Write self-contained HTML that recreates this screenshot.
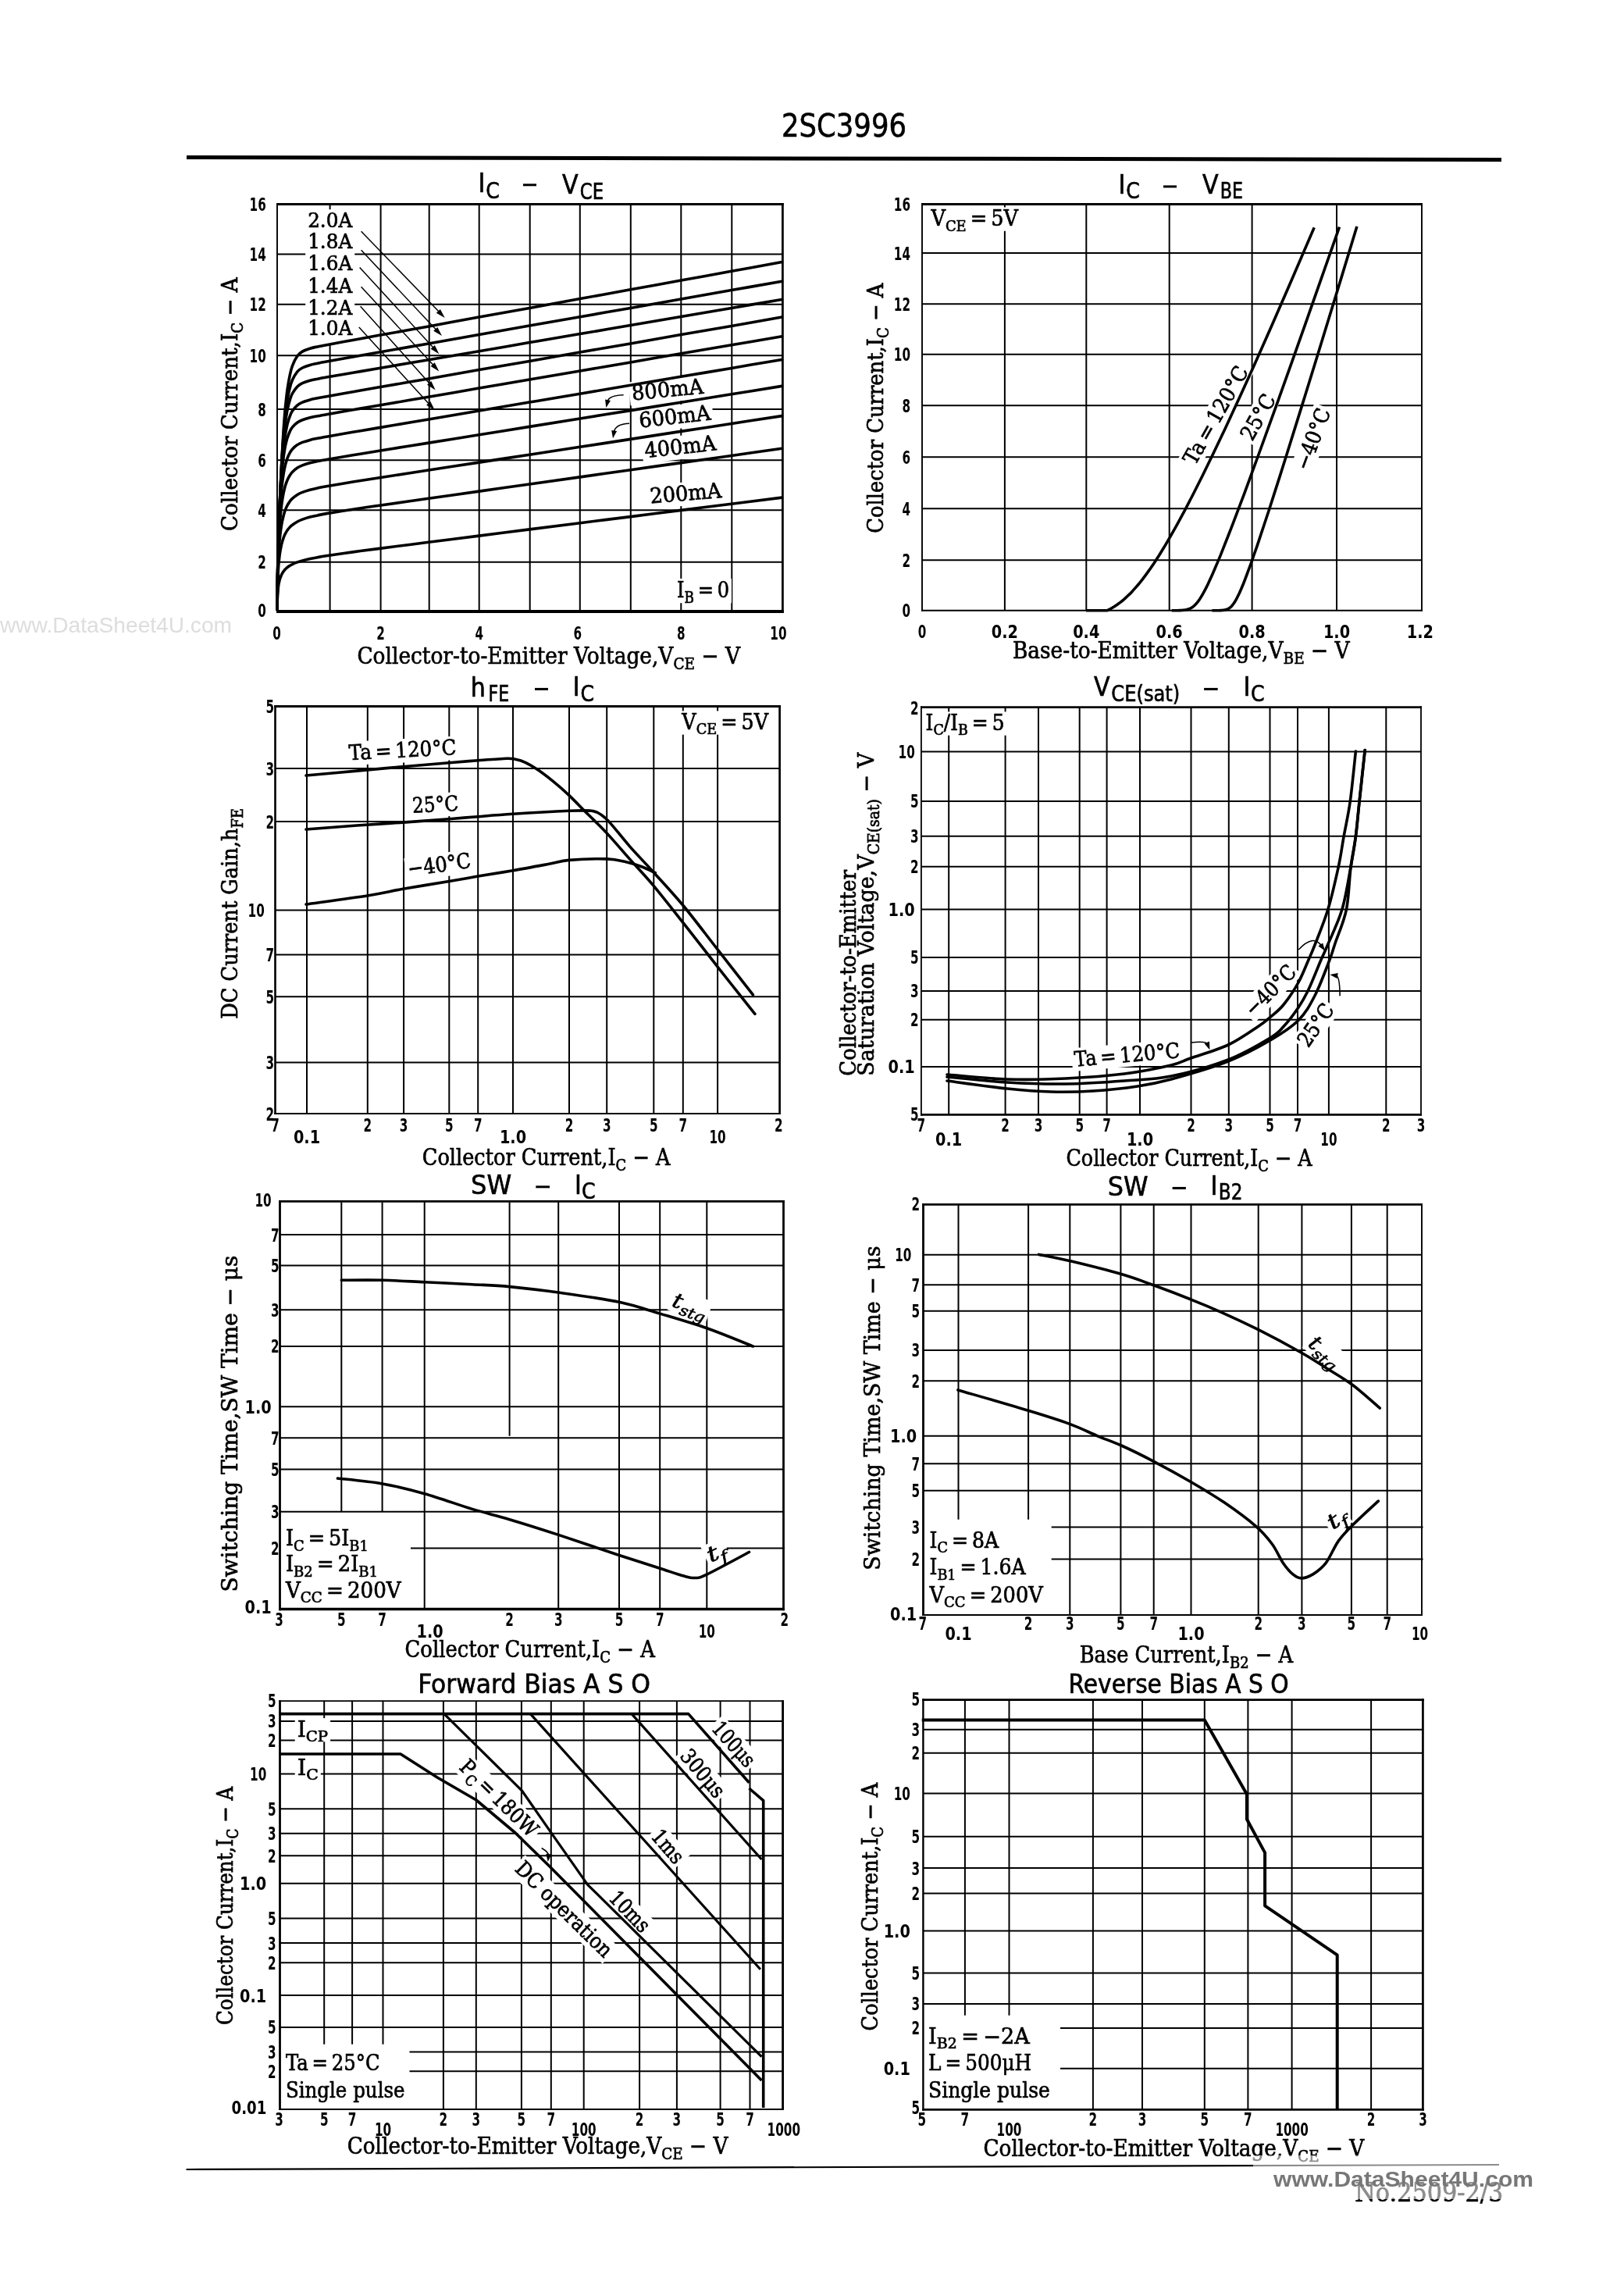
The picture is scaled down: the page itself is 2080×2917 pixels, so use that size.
<!DOCTYPE html>
<html><head><meta charset="utf-8"><title>2SC3996</title>
<style>
html,body{margin:0;padding:0;background:#fff;}
svg{display:block;will-change:transform;}
svg line, svg path, svg rect{stroke:#000;}
.sr{font-family:"DejaVu Serif","Liberation Serif",serif;fill:#000;stroke:#000;stroke-width:0.7px;}
.si{font-family:"DejaVu Serif","Liberation Serif",serif;font-style:italic;fill:#000;stroke:#000;stroke-width:0.6px;}
.sb{font-family:"DejaVu Sans Condensed","DejaVu Sans","Liberation Sans",sans-serif;font-weight:bold;fill:#000;}
.ti{font-family:"DejaVu Sans Condensed","DejaVu Sans","Liberation Sans",sans-serif;fill:#000;stroke:#000;stroke-width:0.6px;}
.wl{font-family:"Liberation Sans","DejaVu Sans",sans-serif;fill:#ddd;}
.wm{font-family:"Liberation Sans","DejaVu Sans",sans-serif;font-weight:bold;fill:#777;}
</style></head>
<body>
<svg width="2080" height="2917" viewBox="0 0 2080 2917">
<rect x="0" y="0" width="2080" height="2917" fill="#fff" style="stroke:none"/>
<line x1="422.6" y1="261.6" x2="422.6" y2="273.9" stroke-width="2"/>
<line x1="422.6" y1="439.9" x2="422.6" y2="781.3" stroke-width="2"/>
<line x1="487.6" y1="261.5" x2="487.6" y2="783" stroke-width="2"/>
<line x1="549.7" y1="261.5" x2="549.7" y2="783" stroke-width="2"/>
<line x1="613.7" y1="261.5" x2="613.7" y2="783" stroke-width="2"/>
<line x1="678.7" y1="261.5" x2="678.7" y2="783" stroke-width="2"/>
<line x1="742.8" y1="261.5" x2="742.8" y2="783" stroke-width="2"/>
<line x1="807.8" y1="261.5" x2="807.8" y2="783" stroke-width="2"/>
<line x1="872.3" y1="261.5" x2="872.3" y2="783" stroke-width="2"/>
<line x1="937.3" y1="261.5" x2="937.3" y2="783" stroke-width="2"/>
<line x1="355" y1="325.6" x2="1002.4" y2="325.6" stroke-width="2"/>
<line x1="355" y1="389.7" x2="1002.4" y2="389.7" stroke-width="2"/>
<line x1="355" y1="455.2" x2="1002.4" y2="455.2" stroke-width="2"/>
<line x1="355" y1="524.1" x2="1002.4" y2="524.1" stroke-width="2"/>
<line x1="355" y1="589.2" x2="1002.4" y2="589.2" stroke-width="2"/>
<line x1="355" y1="653.2" x2="1002.4" y2="653.2" stroke-width="2"/>
<line x1="355" y1="719.7" x2="1002.4" y2="719.7" stroke-width="2"/>
<line x1="1286.9" y1="261.5" x2="1286.9" y2="781.8" stroke-width="2"/>
<line x1="1391.3" y1="261.5" x2="1391.3" y2="781.8" stroke-width="2"/>
<line x1="1497.7" y1="261.5" x2="1497.7" y2="781.8" stroke-width="2"/>
<line x1="1603.6" y1="261.5" x2="1603.6" y2="781.8" stroke-width="2"/>
<line x1="1712" y1="261.5" x2="1712" y2="781.8" stroke-width="2"/>
<line x1="1181" y1="324.1" x2="1821" y2="324.1" stroke-width="2"/>
<line x1="1181" y1="389.2" x2="1821" y2="389.2" stroke-width="2"/>
<line x1="1181" y1="453.7" x2="1821" y2="453.7" stroke-width="2"/>
<line x1="1181" y1="519.2" x2="1821" y2="519.2" stroke-width="2"/>
<line x1="1181" y1="585.2" x2="1821" y2="585.2" stroke-width="2"/>
<line x1="1181" y1="651.2" x2="1821" y2="651.2" stroke-width="2"/>
<line x1="1181" y1="717.2" x2="1821" y2="717.2" stroke-width="2"/>
<line x1="393" y1="904.5" x2="393" y2="1426" stroke-width="2"/>
<line x1="470.8" y1="904.5" x2="470.8" y2="1426" stroke-width="2"/>
<line x1="517.1" y1="904.5" x2="517.1" y2="1426" stroke-width="2"/>
<line x1="575.3" y1="904.5" x2="575.3" y2="1426" stroke-width="2"/>
<line x1="612.2" y1="904.5" x2="612.2" y2="1426" stroke-width="2"/>
<line x1="657" y1="904.5" x2="657" y2="1426" stroke-width="2"/>
<line x1="729" y1="904.5" x2="729" y2="1426" stroke-width="2"/>
<line x1="777.2" y1="904.5" x2="777.2" y2="1426" stroke-width="2"/>
<line x1="837.3" y1="904.5" x2="837.3" y2="1426" stroke-width="2"/>
<line x1="874.8" y1="904.5" x2="874.8" y2="1426" stroke-width="2"/>
<line x1="919.1" y1="904.5" x2="919.1" y2="1426" stroke-width="2"/>
<line x1="352.5" y1="984.1" x2="998.6" y2="984.1" stroke-width="2"/>
<line x1="352.5" y1="1052.1" x2="998.6" y2="1052.1" stroke-width="2"/>
<line x1="352.5" y1="1165.4" x2="998.6" y2="1165.4" stroke-width="2"/>
<line x1="352.5" y1="1222.6" x2="998.6" y2="1222.6" stroke-width="2"/>
<line x1="352.5" y1="1276.3" x2="998.6" y2="1276.3" stroke-width="2"/>
<line x1="352.5" y1="1360.5" x2="998.6" y2="1360.5" stroke-width="2"/>
<line x1="1215.2" y1="905.6" x2="1215.2" y2="1427.4" stroke-width="2"/>
<line x1="1287.6" y1="905.6" x2="1287.6" y2="1427.4" stroke-width="2"/>
<line x1="1330" y1="905.6" x2="1330" y2="1427.4" stroke-width="2"/>
<line x1="1382.7" y1="905.6" x2="1382.7" y2="1427.4" stroke-width="2"/>
<line x1="1417.6" y1="905.6" x2="1417.6" y2="1427.4" stroke-width="2"/>
<line x1="1460" y1="905.6" x2="1460" y2="1427.4" stroke-width="2"/>
<line x1="1525.5" y1="905.6" x2="1525.5" y2="1427.4" stroke-width="2"/>
<line x1="1573.8" y1="905.6" x2="1573.8" y2="1427.4" stroke-width="2"/>
<line x1="1626.5" y1="905.6" x2="1626.5" y2="1427.4" stroke-width="2"/>
<line x1="1662" y1="905.6" x2="1662" y2="1427.4" stroke-width="2"/>
<line x1="1701.9" y1="905.6" x2="1701.9" y2="1427.4" stroke-width="2"/>
<line x1="1775.3" y1="905.6" x2="1775.3" y2="1427.4" stroke-width="2"/>
<line x1="1179.9" y1="962.5" x2="1820" y2="962.5" stroke-width="2"/>
<line x1="1179.9" y1="1026" x2="1820" y2="1026" stroke-width="2"/>
<line x1="1179.9" y1="1070.8" x2="1820" y2="1070.8" stroke-width="2"/>
<line x1="1179.9" y1="1109.8" x2="1820" y2="1109.8" stroke-width="2"/>
<line x1="1179.9" y1="1164.4" x2="1820" y2="1164.4" stroke-width="2"/>
<line x1="1179.9" y1="1226" x2="1820" y2="1226" stroke-width="2"/>
<line x1="1179.9" y1="1268.9" x2="1820" y2="1268.9" stroke-width="2"/>
<line x1="1179.9" y1="1305.8" x2="1820" y2="1305.8" stroke-width="2"/>
<line x1="1179.9" y1="1365.9" x2="1820" y2="1365.9" stroke-width="2"/>
<line x1="437.3" y1="1539.3" x2="437.3" y2="1935.8" stroke-width="2"/>
<line x1="489.6" y1="1539.3" x2="489.6" y2="1935.8" stroke-width="2"/>
<line x1="543.7" y1="1538.4" x2="543.7" y2="2060.5" stroke-width="2"/>
<line x1="652.6" y1="1539.3" x2="652.6" y2="1838.8" stroke-width="2"/>
<line x1="715.2" y1="1538.4" x2="715.2" y2="2060.5" stroke-width="2"/>
<line x1="793" y1="1538.4" x2="793" y2="2060.5" stroke-width="2"/>
<line x1="845.2" y1="1538.4" x2="845.2" y2="2060.5" stroke-width="2"/>
<line x1="905.3" y1="1538.4" x2="905.3" y2="2060.5" stroke-width="2"/>
<line x1="358.5" y1="1581.1" x2="1003.5" y2="1581.1" stroke-width="2"/>
<line x1="358.5" y1="1620.5" x2="1003.5" y2="1620.5" stroke-width="2"/>
<line x1="358.5" y1="1677.2" x2="1003.5" y2="1677.2" stroke-width="2"/>
<line x1="358.5" y1="1724" x2="1003.5" y2="1724" stroke-width="2"/>
<line x1="358.5" y1="1801.3" x2="1003.5" y2="1801.3" stroke-width="2"/>
<line x1="358.5" y1="1841.2" x2="1003.5" y2="1841.2" stroke-width="2"/>
<line x1="358.5" y1="1881.6" x2="1003.5" y2="1881.6" stroke-width="2"/>
<line x1="358.5" y1="1935.8" x2="1003.5" y2="1935.8" stroke-width="2"/>
<line x1="526" y1="1982.6" x2="1004.8" y2="1982.6" stroke-width="2"/>
<line x1="1227.5" y1="1541.7" x2="1227.5" y2="1945.7" stroke-width="2"/>
<line x1="1317.1" y1="1541.7" x2="1317.1" y2="1945.7" stroke-width="2"/>
<line x1="1370.3" y1="1542.4" x2="1370.3" y2="2067.9" stroke-width="2"/>
<line x1="1435.4" y1="1542.4" x2="1435.4" y2="2067.9" stroke-width="2"/>
<line x1="1477.7" y1="1542.4" x2="1477.7" y2="2067.9" stroke-width="2"/>
<line x1="1525.5" y1="1542.4" x2="1525.5" y2="2067.9" stroke-width="2"/>
<line x1="1611.7" y1="1542.4" x2="1611.7" y2="2067.9" stroke-width="2"/>
<line x1="1667.4" y1="1542.4" x2="1667.4" y2="2067.9" stroke-width="2"/>
<line x1="1730.9" y1="1542.4" x2="1730.9" y2="2067.9" stroke-width="2"/>
<line x1="1776.7" y1="1542.4" x2="1776.7" y2="2067.9" stroke-width="2"/>
<line x1="1182.5" y1="1606.7" x2="1821" y2="1606.7" stroke-width="2"/>
<line x1="1182.5" y1="1645.2" x2="1821" y2="1645.2" stroke-width="2"/>
<line x1="1182.5" y1="1678.7" x2="1821" y2="1678.7" stroke-width="2"/>
<line x1="1182.5" y1="1728.9" x2="1821" y2="1728.9" stroke-width="2"/>
<line x1="1182.5" y1="1768.3" x2="1821" y2="1768.3" stroke-width="2"/>
<line x1="1182.5" y1="1838.8" x2="1821" y2="1838.8" stroke-width="2"/>
<line x1="1182.5" y1="1874.2" x2="1821" y2="1874.2" stroke-width="2"/>
<line x1="1182.5" y1="1908.7" x2="1821" y2="1908.7" stroke-width="2"/>
<line x1="1346.7" y1="1955.5" x2="1822.6" y2="1955.5" stroke-width="2"/>
<line x1="1346.7" y1="1996.4" x2="1822.6" y2="1996.4" stroke-width="2"/>
<line x1="415.2" y1="2177.8" x2="415.2" y2="2617.7" stroke-width="2"/>
<line x1="451.1" y1="2177.8" x2="451.1" y2="2617.7" stroke-width="2"/>
<line x1="490.5" y1="2177.8" x2="490.5" y2="2617.7" stroke-width="2"/>
<line x1="567.9" y1="2178.1" x2="567.9" y2="2701" stroke-width="2"/>
<line x1="609.8" y1="2178.1" x2="609.8" y2="2701" stroke-width="2"/>
<line x1="667.9" y1="2178.1" x2="667.9" y2="2701" stroke-width="2"/>
<line x1="705.8" y1="2178.1" x2="705.8" y2="2701" stroke-width="2"/>
<line x1="747.7" y1="2178.1" x2="747.7" y2="2701" stroke-width="2"/>
<line x1="819.1" y1="2178.1" x2="819.1" y2="2701" stroke-width="2"/>
<line x1="866.9" y1="2178.1" x2="866.9" y2="2701" stroke-width="2"/>
<line x1="922.6" y1="2178.1" x2="922.6" y2="2701" stroke-width="2"/>
<line x1="960.5" y1="2178.1" x2="960.5" y2="2701" stroke-width="2"/>
<line x1="358.5" y1="2203.9" x2="1002.6" y2="2203.9" stroke-width="2"/>
<line x1="358.5" y1="2228.5" x2="1002.6" y2="2228.5" stroke-width="2"/>
<line x1="358.5" y1="2271.4" x2="1002.6" y2="2271.4" stroke-width="2"/>
<line x1="358.5" y1="2316.2" x2="1002.6" y2="2316.2" stroke-width="2"/>
<line x1="358.5" y1="2347.7" x2="1002.6" y2="2347.7" stroke-width="2"/>
<line x1="358.5" y1="2376.3" x2="1002.6" y2="2376.3" stroke-width="2"/>
<line x1="358.5" y1="2411.8" x2="1002.6" y2="2411.8" stroke-width="2"/>
<line x1="358.5" y1="2456.6" x2="1002.6" y2="2456.6" stroke-width="2"/>
<line x1="358.5" y1="2488.1" x2="1002.6" y2="2488.1" stroke-width="2"/>
<line x1="358.5" y1="2513.3" x2="1002.6" y2="2513.3" stroke-width="2"/>
<line x1="358.5" y1="2555.1" x2="1002.6" y2="2555.1" stroke-width="2"/>
<line x1="358.5" y1="2596" x2="1002.6" y2="2596" stroke-width="2"/>
<line x1="524.5" y1="2627.5" x2="1003.8" y2="2627.5" stroke-width="2"/>
<line x1="524.5" y1="2652.2" x2="1003.8" y2="2652.2" stroke-width="2"/>
<line x1="1235.9" y1="2177.8" x2="1235.9" y2="2580.7" stroke-width="2"/>
<line x1="1292.5" y1="2177.8" x2="1292.5" y2="2580.7" stroke-width="2"/>
<line x1="1399.9" y1="2176.6" x2="1399.9" y2="2701.3" stroke-width="2"/>
<line x1="1463" y1="2176.6" x2="1463" y2="2701.3" stroke-width="2"/>
<line x1="1542.8" y1="2176.6" x2="1542.8" y2="2701.3" stroke-width="2"/>
<line x1="1598.4" y1="2176.6" x2="1598.4" y2="2701.3" stroke-width="2"/>
<line x1="1654.6" y1="2176.6" x2="1654.6" y2="2701.3" stroke-width="2"/>
<line x1="1756.1" y1="2176.6" x2="1756.1" y2="2701.3" stroke-width="2"/>
<line x1="1182.4" y1="2214.7" x2="1822.4" y2="2214.7" stroke-width="2"/>
<line x1="1182.4" y1="2244.8" x2="1822.4" y2="2244.8" stroke-width="2"/>
<line x1="1182.4" y1="2296.5" x2="1822.4" y2="2296.5" stroke-width="2"/>
<line x1="1182.4" y1="2351.7" x2="1822.4" y2="2351.7" stroke-width="2"/>
<line x1="1182.4" y1="2392.1" x2="1822.4" y2="2392.1" stroke-width="2"/>
<line x1="1182.4" y1="2424.6" x2="1822.4" y2="2424.6" stroke-width="2"/>
<line x1="1182.4" y1="2472.4" x2="1822.4" y2="2472.4" stroke-width="2"/>
<line x1="1182.4" y1="2526.6" x2="1822.4" y2="2526.6" stroke-width="2"/>
<line x1="1182.4" y1="2566" x2="1822.4" y2="2566" stroke-width="2"/>
<line x1="1358" y1="2597" x2="1822.6" y2="2597" stroke-width="2"/>
<line x1="1358" y1="2648.7" x2="1822.6" y2="2648.7" stroke-width="2"/>
<rect x="454.4" y="824.2" width="496.6" height="32.8" fill="#fff" style="stroke:none"/>
<rect x="391.2" y="268.2" width="63" height="28.8" fill="#fff" style="stroke:none"/>
<rect x="391.2" y="296" width="63" height="28.8" fill="#fff" style="stroke:none"/>
<rect x="391.2" y="323.7" width="63" height="28.8" fill="#fff" style="stroke:none"/>
<rect x="391.2" y="352.3" width="63" height="28.8" fill="#fff" style="stroke:none"/>
<rect x="391.2" y="380.9" width="63" height="28.8" fill="#fff" style="stroke:none"/>
<rect x="391.2" y="406.8" width="63" height="28.8" fill="#fff" style="stroke:none"/>
<rect x="807.1" y="489" width="98" height="30.3" fill="#fff" style="stroke:none" transform="rotate(-5.5 810.1 512.5)"/>
<rect x="816.6" y="524.2" width="98" height="30.3" fill="#fff" style="stroke:none" transform="rotate(-6.5 819.6 547.7)"/>
<rect x="823.4" y="562.8" width="98" height="30.3" fill="#fff" style="stroke:none" transform="rotate(-6.2 826.4 586.3)"/>
<rect x="830.2" y="621.1" width="98" height="30.3" fill="#fff" style="stroke:none" transform="rotate(-4.7 833.2 644.6)"/>
<rect x="864" y="740.9" width="73" height="31.3" fill="#fff" style="stroke:none"/>
<rect x="1293.9" y="817.6" width="437.7" height="32.8" fill="#fff" style="stroke:none"/>
<rect x="1189.4" y="265.5" width="117.7" height="30.3" fill="#fff" style="stroke:none"/>
<rect x="1483.6" y="517.5" width="146" height="29.6" fill="#fff" style="stroke:none" transform="rotate(-60.4 1556.6 531.3)"/>
<rect x="1576.3" y="520" width="69" height="29.6" fill="#fff" style="stroke:none" transform="rotate(-60.6 1610.8 533.8)"/>
<rect x="1637" y="548.3" width="88" height="29.6" fill="#fff" style="stroke:none" transform="rotate(-69.5 1681 562.1)"/>
<rect x="537.8" y="1466.1" width="323.7" height="32.8" fill="#fff" style="stroke:none"/>
<rect x="444.2" y="949.8" width="143.9" height="30.3" fill="#fff" style="stroke:none" transform="rotate(-3 447.2 973.3)"/>
<rect x="525.5" y="1017.3" width="65.1" height="30.3" fill="#fff" style="stroke:none" transform="rotate(-3 528.5 1040.8)"/>
<rect x="520.5" y="1098.5" width="87.3" height="30.3" fill="#fff" style="stroke:none" transform="rotate(-8 523.5 1122.1)"/>
<rect x="870.3" y="910.4" width="116.8" height="30.3" fill="#fff" style="stroke:none"/>
<rect x="1362.4" y="1467.6" width="321.3" height="32.8" fill="#fff" style="stroke:none"/>
<rect x="1182.6" y="911.4" width="107" height="30.3" fill="#fff" style="stroke:none"/>
<rect x="1372.5" y="1336.3" width="141.5" height="29.6" fill="#fff" style="stroke:none" transform="rotate(-5 1443.3 1350.1)"/>
<rect x="1583.5" y="1254" width="86" height="29.6" fill="#fff" style="stroke:none" transform="rotate(-45 1626.5 1267.9)"/>
<rect x="1651.6" y="1298.4" width="66" height="29.6" fill="#fff" style="stroke:none" transform="rotate(-55 1684.6 1312.2)"/>
<rect x="515.6" y="2096.1" width="326.2" height="32.8" fill="#fff" style="stroke:none"/>
<rect x="858.3" y="1657.2" width="52" height="29.6" fill="#fff" style="stroke:none" transform="rotate(20 884.3 1671)"/>
<rect x="901.8" y="1973.3" width="30" height="29.6" fill="#fff" style="stroke:none" transform="rotate(-25 916.8 1987.1)"/>
<rect x="362.9" y="1955.6" width="111.9" height="30.3" fill="#fff" style="stroke:none"/>
<rect x="362.9" y="1988.6" width="124.2" height="30.3" fill="#fff" style="stroke:none"/>
<rect x="362.9" y="2022.1" width="153.8" height="30.3" fill="#fff" style="stroke:none"/>
<rect x="1379.7" y="2103.5" width="279.4" height="32.8" fill="#fff" style="stroke:none"/>
<rect x="1671.8" y="1716.1" width="52" height="29.6" fill="#fff" style="stroke:none" transform="rotate(40 1697.8 1729.9)"/>
<rect x="1696.2" y="1930.7" width="30" height="29.6" fill="#fff" style="stroke:none" transform="rotate(-35 1711.2 1944.5)"/>
<rect x="1187.5" y="1958.1" width="94.7" height="30.3" fill="#fff" style="stroke:none"/>
<rect x="1187.5" y="1992.6" width="129.2" height="30.3" fill="#fff" style="stroke:none"/>
<rect x="1187.5" y="2028.1" width="151.3" height="30.3" fill="#fff" style="stroke:none"/>
<rect x="441.7" y="2732.7" width="493.7" height="32.8" fill="#fff" style="stroke:none"/>
<rect x="377.7" y="2200.1" width="45.4" height="30.3" fill="#fff" style="stroke:none"/>
<rect x="377.7" y="2249.3" width="33.1" height="30.3" fill="#fff" style="stroke:none"/>
<rect x="572.5" y="2288.3" width="134" height="29.6" fill="#fff" style="stroke:none" transform="rotate(44.4 639.5 2302.1)"/>
<rect x="638.8" y="2430.5" width="168" height="29.6" fill="#fff" style="stroke:none" transform="rotate(44.5 722.8 2444.3)"/>
<rect x="773.1" y="2433.5" width="68" height="29.6" fill="#fff" style="stroke:none" transform="rotate(46 807.1 2447.3)"/>
<rect x="828.9" y="2350.2" width="54" height="29.6" fill="#fff" style="stroke:none" transform="rotate(49 855.9 2364)"/>
<rect x="861.5" y="2256.7" width="78" height="29.6" fill="#fff" style="stroke:none" transform="rotate(49.8 900.5 2270.5)"/>
<rect x="903.2" y="2219.2" width="74" height="29.6" fill="#fff" style="stroke:none" transform="rotate(48 940.2 2233)"/>
<rect x="362.9" y="2627.7" width="126.7" height="30.3" fill="#fff" style="stroke:none"/>
<rect x="362.9" y="2662.1" width="158.7" height="30.3" fill="#fff" style="stroke:none"/>
<rect x="1256.5" y="2735.1" width="493.7" height="32.8" fill="#fff" style="stroke:none"/>
<rect x="1186.1" y="2593.2" width="135.6" height="30.3" fill="#fff" style="stroke:none"/>
<rect x="1186.1" y="2627.7" width="138" height="30.3" fill="#fff" style="stroke:none"/>
<rect x="1186.1" y="2662.1" width="161.7" height="30.3" fill="#fff" style="stroke:none"/>
<g class="halo">
<text x="612.5" y="245.6" font-size="33.5" class="ti">I</text>
<text x="622.3" y="253.8" font-size="28" class="ti">C</text>
<line x1="670" y1="236.8" x2="687" y2="236.8" stroke-width="3"/>
<text x="719.9" y="247.7" font-size="33.5" class="ti">V</text>
<text x="742.8" y="254.9" font-size="28" class="ti" textLength="30.3" lengthAdjust="spacingAndGlyphs">CE</text>
<text x="340.8" y="270" font-size="23" class="sb" text-anchor="end" textLength="21.2" lengthAdjust="spacingAndGlyphs">16</text>
<text x="340.8" y="334" font-size="23" class="sb" text-anchor="end" textLength="21.2" lengthAdjust="spacingAndGlyphs">14</text>
<text x="340.8" y="398" font-size="23" class="sb" text-anchor="end" textLength="21.2" lengthAdjust="spacingAndGlyphs">12</text>
<text x="340.8" y="463.6" font-size="23" class="sb" text-anchor="end" textLength="21.2" lengthAdjust="spacingAndGlyphs">10</text>
<text x="340.8" y="532.5" font-size="23" class="sb" text-anchor="end" textLength="10.6" lengthAdjust="spacingAndGlyphs">8</text>
<text x="340.8" y="597.5" font-size="23" class="sb" text-anchor="end" textLength="10.6" lengthAdjust="spacingAndGlyphs">6</text>
<text x="340.8" y="661.6" font-size="23" class="sb" text-anchor="end" textLength="10.6" lengthAdjust="spacingAndGlyphs">4</text>
<text x="340.8" y="728.1" font-size="23" class="sb" text-anchor="end" textLength="10.6" lengthAdjust="spacingAndGlyphs">2</text>
<text x="340.8" y="789.7" font-size="23" class="sb" text-anchor="end" textLength="10.6" lengthAdjust="spacingAndGlyphs">0</text>
<text x="354.6" y="819.2" font-size="23" class="sb" text-anchor="middle" textLength="10.6" lengthAdjust="spacingAndGlyphs">0</text>
<text x="487.6" y="819.2" font-size="23" class="sb" text-anchor="middle" textLength="10.6" lengthAdjust="spacingAndGlyphs">2</text>
<text x="613.7" y="819.2" font-size="23" class="sb" text-anchor="middle" textLength="10.6" lengthAdjust="spacingAndGlyphs">4</text>
<text x="739.8" y="819.2" font-size="23" class="sb" text-anchor="middle" textLength="10.6" lengthAdjust="spacingAndGlyphs">6</text>
<text x="872.3" y="819.2" font-size="23" class="sb" text-anchor="middle" textLength="10.6" lengthAdjust="spacingAndGlyphs">8</text>
<text x="996.9" y="819.2" font-size="23" class="sb" text-anchor="middle" textLength="21.2" lengthAdjust="spacingAndGlyphs">10</text>
<text x="304" y="517.6" font-size="28.5" class="sr" text-anchor="middle" textLength="324.6" lengthAdjust="spacingAndGlyphs" transform="rotate(-90 304 517.6)">Collector Current,I<tspan dy="6.8" font-size="19.9">C</tspan><tspan dy="-6.8"> − A</tspan></text>
<text x="457.4" y="849.6" font-size="29.5" class="sr" textLength="490.6" lengthAdjust="spacingAndGlyphs">Collector-to-Emitter Voltage,V<tspan dy="7.1" font-size="20.6">CE</tspan><tspan dy="-7.1"> − V</tspan></text>
<text x="394.2" y="290.6" font-size="25.5" class="sr" textLength="57" lengthAdjust="spacingAndGlyphs">2.0A</text>
<text x="394.2" y="318.4" font-size="25.5" class="sr" textLength="57" lengthAdjust="spacingAndGlyphs">1.8A</text>
<text x="394.2" y="346.1" font-size="25.5" class="sr" textLength="57" lengthAdjust="spacingAndGlyphs">1.6A</text>
<text x="394.2" y="374.7" font-size="25.5" class="sr" textLength="57" lengthAdjust="spacingAndGlyphs">1.4A</text>
<text x="394.2" y="403.3" font-size="25.5" class="sr" textLength="57" lengthAdjust="spacingAndGlyphs">1.2A</text>
<text x="394.2" y="429.2" font-size="25.5" class="sr" textLength="57" lengthAdjust="spacingAndGlyphs">1.0A</text>
<text x="810.1" y="512.5" font-size="27" class="sr" textLength="92" lengthAdjust="spacingAndGlyphs" transform="rotate(-5.5 810.1 512.5)">800mA</text>
<text x="819.6" y="547.7" font-size="27" class="sr" textLength="92" lengthAdjust="spacingAndGlyphs" transform="rotate(-6.5 819.6 547.7)">600mA</text>
<text x="826.4" y="586.3" font-size="27" class="sr" textLength="92" lengthAdjust="spacingAndGlyphs" transform="rotate(-6.2 826.4 586.3)">400mA</text>
<text x="833.2" y="644.6" font-size="27" class="sr" textLength="92" lengthAdjust="spacingAndGlyphs" transform="rotate(-4.7 833.2 644.6)">200mA</text>
<text x="867" y="765.2" font-size="28" class="sr" textLength="67" lengthAdjust="spacingAndGlyphs">I<tspan dy="6.7" font-size="19.6">B</tspan><tspan dy="-6.7"> = 0</tspan></text>
<text x="1432.6" y="247.7" font-size="33.5" class="ti">I</text>
<text x="1442.3" y="254.4" font-size="28" class="ti">C</text>
<line x1="1490" y1="238.9" x2="1507" y2="238.9" stroke-width="3"/>
<text x="1539.9" y="248.3" font-size="33.5" class="ti">V</text>
<text x="1562.8" y="254.4" font-size="28" class="ti" textLength="29.3" lengthAdjust="spacingAndGlyphs">BE</text>
<text x="1166" y="270" font-size="23" class="sb" text-anchor="end" textLength="21.2" lengthAdjust="spacingAndGlyphs">16</text>
<text x="1166" y="332.5" font-size="23" class="sb" text-anchor="end" textLength="21.2" lengthAdjust="spacingAndGlyphs">14</text>
<text x="1166" y="397.5" font-size="23" class="sb" text-anchor="end" textLength="21.2" lengthAdjust="spacingAndGlyphs">12</text>
<text x="1166" y="462.1" font-size="23" class="sb" text-anchor="end" textLength="21.2" lengthAdjust="spacingAndGlyphs">10</text>
<text x="1166" y="527.6" font-size="23" class="sb" text-anchor="end" textLength="10.6" lengthAdjust="spacingAndGlyphs">8</text>
<text x="1166" y="593.6" font-size="23" class="sb" text-anchor="end" textLength="10.6" lengthAdjust="spacingAndGlyphs">6</text>
<text x="1166" y="659.6" font-size="23" class="sb" text-anchor="end" textLength="10.6" lengthAdjust="spacingAndGlyphs">4</text>
<text x="1166" y="725.6" font-size="23" class="sb" text-anchor="end" textLength="10.6" lengthAdjust="spacingAndGlyphs">2</text>
<text x="1166" y="789.7" font-size="23" class="sb" text-anchor="end" textLength="10.6" lengthAdjust="spacingAndGlyphs">0</text>
<text x="1181" y="816.8" font-size="23" class="sb" text-anchor="middle" textLength="10.6" lengthAdjust="spacingAndGlyphs">0</text>
<text x="1286.9" y="816.8" font-size="23" class="sb" text-anchor="middle" textLength="34.2" lengthAdjust="spacingAndGlyphs">0.2</text>
<text x="1391.3" y="816.8" font-size="23" class="sb" text-anchor="middle" textLength="34.2" lengthAdjust="spacingAndGlyphs">0.4</text>
<text x="1497.7" y="816.8" font-size="23" class="sb" text-anchor="middle" textLength="34.2" lengthAdjust="spacingAndGlyphs">0.6</text>
<text x="1603.6" y="816.8" font-size="23" class="sb" text-anchor="middle" textLength="34.2" lengthAdjust="spacingAndGlyphs">0.8</text>
<text x="1712" y="816.8" font-size="23" class="sb" text-anchor="middle" textLength="34.2" lengthAdjust="spacingAndGlyphs">1.0</text>
<text x="1818.9" y="816.8" font-size="23" class="sb" text-anchor="middle" textLength="34.2" lengthAdjust="spacingAndGlyphs">1.2</text>
<text x="1131.4" y="522.7" font-size="28.5" class="sr" text-anchor="middle" textLength="320.2" lengthAdjust="spacingAndGlyphs" transform="rotate(-90 1131.4 522.7)">Collector Current,I<tspan dy="6.8" font-size="19.9">C</tspan><tspan dy="-6.8"> − A</tspan></text>
<text x="1296.9" y="843" font-size="29.5" class="sr" textLength="431.7" lengthAdjust="spacingAndGlyphs">Base-to-Emitter Voltage,V<tspan dy="7.1" font-size="20.6">BE</tspan><tspan dy="-7.1"> − V</tspan></text>
<text x="1192.4" y="289" font-size="27" class="sr" textLength="111.7" lengthAdjust="spacingAndGlyphs">V<tspan dy="6.5" font-size="18.9">CE</tspan><tspan dy="-6.5"> = 5V</tspan></text>
<text x="1556.6" y="541.1" font-size="27" class="sr" text-anchor="middle" textLength="140" lengthAdjust="spacingAndGlyphs" transform="rotate(-60.4 1556.6 531.3)">Ta = 120°C</text>
<text x="1610.8" y="543.6" font-size="27" class="sr" text-anchor="middle" textLength="63" lengthAdjust="spacingAndGlyphs" transform="rotate(-60.6 1610.8 533.8)">25°C</text>
<text x="1681" y="571.9" font-size="27" class="sr" text-anchor="middle" textLength="82" lengthAdjust="spacingAndGlyphs" transform="rotate(-69.5 1681 562.1)">−40°C</text>
<text x="602.7" y="891.8" font-size="33.5" class="ti">h</text>
<text x="625.6" y="897.9" font-size="28" class="ti" textLength="26.6" lengthAdjust="spacingAndGlyphs">FE</text>
<line x1="685" y1="882.4" x2="702" y2="882.4" stroke-width="3"/>
<text x="733.8" y="890.5" font-size="33.5" class="ti">I</text>
<text x="743.6" y="897.9" font-size="28" class="ti">C</text>
<text x="351.1" y="912.7" font-size="23" class="sb" text-anchor="end" textLength="10.6" lengthAdjust="spacingAndGlyphs">5</text>
<text x="351.1" y="992.5" font-size="23" class="sb" text-anchor="end" textLength="10.6" lengthAdjust="spacingAndGlyphs">3</text>
<text x="351.1" y="1060.5" font-size="23" class="sb" text-anchor="end" textLength="10.6" lengthAdjust="spacingAndGlyphs">2</text>
<text x="351.1" y="1230.9" font-size="23" class="sb" text-anchor="end" textLength="10.6" lengthAdjust="spacingAndGlyphs">7</text>
<text x="351.1" y="1284.6" font-size="23" class="sb" text-anchor="end" textLength="10.6" lengthAdjust="spacingAndGlyphs">5</text>
<text x="351.1" y="1368.9" font-size="23" class="sb" text-anchor="end" textLength="10.6" lengthAdjust="spacingAndGlyphs">3</text>
<text x="351.1" y="1434.9" font-size="23" class="sb" text-anchor="end" textLength="10.6" lengthAdjust="spacingAndGlyphs">2</text>
<text x="338.8" y="1173.8" font-size="23" class="sb" text-anchor="end" textLength="21.2" lengthAdjust="spacingAndGlyphs">10</text>
<text x="352.6" y="1448.7" font-size="23" class="sb" text-anchor="middle" textLength="10.6" lengthAdjust="spacingAndGlyphs">7</text>
<text x="470.8" y="1448.7" font-size="23" class="sb" text-anchor="middle" textLength="10.6" lengthAdjust="spacingAndGlyphs">2</text>
<text x="517.1" y="1448.7" font-size="23" class="sb" text-anchor="middle" textLength="10.6" lengthAdjust="spacingAndGlyphs">3</text>
<text x="575.3" y="1448.7" font-size="23" class="sb" text-anchor="middle" textLength="10.6" lengthAdjust="spacingAndGlyphs">5</text>
<text x="612.2" y="1448.7" font-size="23" class="sb" text-anchor="middle" textLength="10.6" lengthAdjust="spacingAndGlyphs">7</text>
<text x="729" y="1448.7" font-size="23" class="sb" text-anchor="middle" textLength="10.6" lengthAdjust="spacingAndGlyphs">2</text>
<text x="777.2" y="1448.7" font-size="23" class="sb" text-anchor="middle" textLength="10.6" lengthAdjust="spacingAndGlyphs">3</text>
<text x="837.3" y="1448.7" font-size="23" class="sb" text-anchor="middle" textLength="10.6" lengthAdjust="spacingAndGlyphs">5</text>
<text x="874.8" y="1448.7" font-size="23" class="sb" text-anchor="middle" textLength="10.6" lengthAdjust="spacingAndGlyphs">7</text>
<text x="997.4" y="1448.7" font-size="23" class="sb" text-anchor="middle" textLength="10.6" lengthAdjust="spacingAndGlyphs">2</text>
<text x="393" y="1464.4" font-size="23" class="sb" text-anchor="middle" textLength="34.2" lengthAdjust="spacingAndGlyphs">0.1</text>
<text x="657" y="1464.4" font-size="23" class="sb" text-anchor="middle" textLength="34.2" lengthAdjust="spacingAndGlyphs">1.0</text>
<text x="919.1" y="1464.4" font-size="23" class="sb" text-anchor="middle" textLength="21.2" lengthAdjust="spacingAndGlyphs">10</text>
<text x="304" y="1169.9" font-size="28.5" class="sr" text-anchor="middle" textLength="269.8" lengthAdjust="spacingAndGlyphs" transform="rotate(-90 304 1169.9)">DC Current Gain,h<tspan dy="6.8" font-size="19.9">FE</tspan><tspan dy="-6.8"></tspan></text>
<text x="540.8" y="1491.5" font-size="29.5" class="sr" textLength="317.7" lengthAdjust="spacingAndGlyphs">Collector Current,I<tspan dy="7.1" font-size="20.6">C</tspan><tspan dy="-7.1"> − A</tspan></text>
<text x="447.2" y="973.3" font-size="27" class="sr" textLength="137.9" lengthAdjust="spacingAndGlyphs" transform="rotate(-3 447.2 973.3)">Ta = 120°C</text>
<text x="528.5" y="1040.8" font-size="27" class="sr" textLength="59.1" lengthAdjust="spacingAndGlyphs" transform="rotate(-3 528.5 1040.8)">25°C</text>
<text x="523.5" y="1122.1" font-size="27" class="sr" textLength="81.3" lengthAdjust="spacingAndGlyphs" transform="rotate(-8 523.5 1122.1)">−40°C</text>
<text x="873.3" y="933.9" font-size="27" class="sr" textLength="110.8" lengthAdjust="spacingAndGlyphs">V<tspan dy="6.5" font-size="18.9">CE</tspan><tspan dy="-6.5"> = 5V</tspan></text>
<text x="1400.9" y="891.2" font-size="33.5" class="ti">V</text>
<text x="1423.3" y="898.4" font-size="28" class="ti" textLength="87.9" lengthAdjust="spacingAndGlyphs">CE(sat)</text>
<line x1="1542.1" y1="882.4" x2="1559.7" y2="882.4" stroke-width="3"/>
<text x="1592.4" y="891.2" font-size="33.5" class="ti">I</text>
<text x="1602" y="898.4" font-size="28" class="ti">C</text>
<text x="1176.7" y="915.2" font-size="23" class="sb" text-anchor="end" textLength="10.6" lengthAdjust="spacingAndGlyphs">2</text>
<text x="1176.7" y="1034.4" font-size="23" class="sb" text-anchor="end" textLength="10.6" lengthAdjust="spacingAndGlyphs">5</text>
<text x="1176.7" y="1079.2" font-size="23" class="sb" text-anchor="end" textLength="10.6" lengthAdjust="spacingAndGlyphs">3</text>
<text x="1176.7" y="1118.1" font-size="23" class="sb" text-anchor="end" textLength="10.6" lengthAdjust="spacingAndGlyphs">2</text>
<text x="1176.7" y="1234.4" font-size="23" class="sb" text-anchor="end" textLength="10.6" lengthAdjust="spacingAndGlyphs">5</text>
<text x="1176.7" y="1277.3" font-size="23" class="sb" text-anchor="end" textLength="10.6" lengthAdjust="spacingAndGlyphs">3</text>
<text x="1176.7" y="1314.2" font-size="23" class="sb" text-anchor="end" textLength="10.6" lengthAdjust="spacingAndGlyphs">2</text>
<text x="1176.7" y="1434.9" font-size="23" class="sb" text-anchor="end" textLength="10.6" lengthAdjust="spacingAndGlyphs">5</text>
<text x="1171.8" y="970.8" font-size="23" class="sb" text-anchor="end" textLength="21.2" lengthAdjust="spacingAndGlyphs">10</text>
<text x="1171.8" y="1172.8" font-size="23" class="sb" text-anchor="end" textLength="34.2" lengthAdjust="spacingAndGlyphs">1.0</text>
<text x="1171.8" y="1374.3" font-size="23" class="sb" text-anchor="end" textLength="34.2" lengthAdjust="spacingAndGlyphs">0.1</text>
<text x="1179.7" y="1448.7" font-size="23" class="sb" text-anchor="middle" textLength="10.6" lengthAdjust="spacingAndGlyphs">7</text>
<text x="1287.6" y="1448.7" font-size="23" class="sb" text-anchor="middle" textLength="10.6" lengthAdjust="spacingAndGlyphs">2</text>
<text x="1330" y="1448.7" font-size="23" class="sb" text-anchor="middle" textLength="10.6" lengthAdjust="spacingAndGlyphs">3</text>
<text x="1382.7" y="1448.7" font-size="23" class="sb" text-anchor="middle" textLength="10.6" lengthAdjust="spacingAndGlyphs">5</text>
<text x="1417.6" y="1448.7" font-size="23" class="sb" text-anchor="middle" textLength="10.6" lengthAdjust="spacingAndGlyphs">7</text>
<text x="1525.5" y="1448.7" font-size="23" class="sb" text-anchor="middle" textLength="10.6" lengthAdjust="spacingAndGlyphs">2</text>
<text x="1573.8" y="1448.7" font-size="23" class="sb" text-anchor="middle" textLength="10.6" lengthAdjust="spacingAndGlyphs">3</text>
<text x="1626.5" y="1448.7" font-size="23" class="sb" text-anchor="middle" textLength="10.6" lengthAdjust="spacingAndGlyphs">5</text>
<text x="1662" y="1448.7" font-size="23" class="sb" text-anchor="middle" textLength="10.6" lengthAdjust="spacingAndGlyphs">7</text>
<text x="1775.3" y="1448.7" font-size="23" class="sb" text-anchor="middle" textLength="10.6" lengthAdjust="spacingAndGlyphs">2</text>
<text x="1820.1" y="1448.7" font-size="23" class="sb" text-anchor="middle" textLength="10.6" lengthAdjust="spacingAndGlyphs">3</text>
<text x="1215.2" y="1466.9" font-size="23" class="sb" text-anchor="middle" textLength="34.2" lengthAdjust="spacingAndGlyphs">0.1</text>
<text x="1460" y="1466.9" font-size="23" class="sb" text-anchor="middle" textLength="34.2" lengthAdjust="spacingAndGlyphs">1.0</text>
<text x="1701.9" y="1466.9" font-size="23" class="sb" text-anchor="middle" textLength="21.2" lengthAdjust="spacingAndGlyphs">10</text>
<text x="1095.6" y="1245.8" font-size="28.5" class="sr" text-anchor="middle" textLength="263.7" lengthAdjust="spacingAndGlyphs" transform="rotate(-90 1095.6 1245.8)">Collector-to-Emitter</text>
<text x="1119.3" y="1170.8" font-size="28.5" class="sr" text-anchor="middle" textLength="413.9" lengthAdjust="spacingAndGlyphs" transform="rotate(-90 1119.3 1170.8)">Saturation Voltage,V<tspan dy="6.8" font-size="19.9">CE(sat)</tspan><tspan dy="-6.8"> − V</tspan></text>
<text x="1365.4" y="1493" font-size="29.5" class="sr" textLength="315.3" lengthAdjust="spacingAndGlyphs">Collector Current,I<tspan dy="7.1" font-size="20.6">C</tspan><tspan dy="-7.1"> − A</tspan></text>
<text x="1185.6" y="934.9" font-size="27" class="sr" textLength="101" lengthAdjust="spacingAndGlyphs">I<tspan dy="6.5" font-size="18.9">C</tspan><tspan dy="-6.5">/I</tspan><tspan dy="6.5" font-size="18.9">B</tspan><tspan dy="-6.5"> = 5</tspan></text>
<text x="1443.3" y="1360" font-size="27" class="sr" text-anchor="middle" textLength="135.5" lengthAdjust="spacingAndGlyphs" transform="rotate(-5 1443.3 1350.1)">Ta = 120°C</text>
<text x="1626.5" y="1277.7" font-size="27" class="sr" text-anchor="middle" textLength="80" lengthAdjust="spacingAndGlyphs" transform="rotate(-45 1626.5 1267.9)">−40°C</text>
<text x="1684.6" y="1322.1" font-size="27" class="sr" text-anchor="middle" textLength="60" lengthAdjust="spacingAndGlyphs" transform="rotate(-55 1684.6 1312.2)">25°C</text>
<text x="603.1" y="1528.6" font-size="33.5" class="ti" textLength="52.1" lengthAdjust="spacingAndGlyphs">SW</text>
<line x1="686.3" y1="1519.8" x2="704" y2="1519.8" stroke-width="3"/>
<text x="735.9" y="1528.6" font-size="33.5" class="ti">I</text>
<text x="744.9" y="1535.4" font-size="28" class="ti">C</text>
<text x="357.5" y="1589.5" font-size="23" class="sb" text-anchor="end" textLength="10.6" lengthAdjust="spacingAndGlyphs">7</text>
<text x="357.5" y="1628.9" font-size="23" class="sb" text-anchor="end" textLength="10.6" lengthAdjust="spacingAndGlyphs">5</text>
<text x="357.5" y="1685.6" font-size="23" class="sb" text-anchor="end" textLength="10.6" lengthAdjust="spacingAndGlyphs">3</text>
<text x="357.5" y="1732.4" font-size="23" class="sb" text-anchor="end" textLength="10.6" lengthAdjust="spacingAndGlyphs">2</text>
<text x="357.5" y="1849.6" font-size="23" class="sb" text-anchor="end" textLength="10.6" lengthAdjust="spacingAndGlyphs">7</text>
<text x="357.5" y="1890" font-size="23" class="sb" text-anchor="end" textLength="10.6" lengthAdjust="spacingAndGlyphs">5</text>
<text x="357.5" y="1944.2" font-size="23" class="sb" text-anchor="end" textLength="10.6" lengthAdjust="spacingAndGlyphs">3</text>
<text x="357.5" y="1991" font-size="23" class="sb" text-anchor="end" textLength="10.6" lengthAdjust="spacingAndGlyphs">2</text>
<text x="347.7" y="1545.2" font-size="23" class="sb" text-anchor="end" textLength="21.2" lengthAdjust="spacingAndGlyphs">10</text>
<text x="347.7" y="1809.7" font-size="23" class="sb" text-anchor="end" textLength="34.2" lengthAdjust="spacingAndGlyphs">1.0</text>
<text x="347.7" y="2066.4" font-size="23" class="sb" text-anchor="end" textLength="34.2" lengthAdjust="spacingAndGlyphs">0.1</text>
<text x="357.5" y="2082.1" font-size="23" class="sb" text-anchor="middle" textLength="10.6" lengthAdjust="spacingAndGlyphs">3</text>
<text x="437.3" y="2082.1" font-size="23" class="sb" text-anchor="middle" textLength="10.6" lengthAdjust="spacingAndGlyphs">5</text>
<text x="489.6" y="2082.1" font-size="23" class="sb" text-anchor="middle" textLength="10.6" lengthAdjust="spacingAndGlyphs">7</text>
<text x="652.6" y="2082.1" font-size="23" class="sb" text-anchor="middle" textLength="10.6" lengthAdjust="spacingAndGlyphs">2</text>
<text x="715.2" y="2082.1" font-size="23" class="sb" text-anchor="middle" textLength="10.6" lengthAdjust="spacingAndGlyphs">3</text>
<text x="793" y="2082.1" font-size="23" class="sb" text-anchor="middle" textLength="10.6" lengthAdjust="spacingAndGlyphs">5</text>
<text x="845.2" y="2082.1" font-size="23" class="sb" text-anchor="middle" textLength="10.6" lengthAdjust="spacingAndGlyphs">7</text>
<text x="1004.8" y="2082.1" font-size="23" class="sb" text-anchor="middle" textLength="10.6" lengthAdjust="spacingAndGlyphs">2</text>
<text x="550.6" y="2096.9" font-size="23" class="sb" text-anchor="middle" textLength="34.2" lengthAdjust="spacingAndGlyphs">1.0</text>
<text x="905.3" y="2096.9" font-size="23" class="sb" text-anchor="middle" textLength="21.2" lengthAdjust="spacingAndGlyphs">10</text>
<text x="304.1" y="1823.1" font-size="28.5" class="sr" text-anchor="middle" textLength="430.8" lengthAdjust="spacingAndGlyphs" transform="rotate(-90 304.1 1823.1)">Switching Time,SW Time − μs</text>
<text x="518.6" y="2121.5" font-size="29.5" class="sr" textLength="320.2" lengthAdjust="spacingAndGlyphs">Collector Current,I<tspan dy="7.1" font-size="20.6">C</tspan><tspan dy="-7.1"> − A</tspan></text>
<text x="884.3" y="1680.8" font-size="27" class="si" text-anchor="middle" textLength="46" lengthAdjust="spacingAndGlyphs" transform="rotate(20 884.3 1671)">t<tspan dy="6.5" font-size="18.9">stg</tspan><tspan dy="-6.5"></tspan></text>
<text x="916.8" y="1996.9" font-size="27" class="si" text-anchor="middle" textLength="24" lengthAdjust="spacingAndGlyphs" transform="rotate(-25 916.8 1987.1)">t<tspan dy="6.5" font-size="18.9">f</tspan><tspan dy="-6.5"></tspan></text>
<text x="365.9" y="1979.2" font-size="27" class="sr" textLength="105.9" lengthAdjust="spacingAndGlyphs">I<tspan dy="6.5" font-size="18.9">C</tspan><tspan dy="-6.5"> = 5I</tspan><tspan dy="6.5" font-size="18.9">B1</tspan><tspan dy="-6.5"></tspan></text>
<text x="365.9" y="2012.2" font-size="27" class="sr" textLength="118.2" lengthAdjust="spacingAndGlyphs">I<tspan dy="6.5" font-size="18.9">B2</tspan><tspan dy="-6.5"> = 2I</tspan><tspan dy="6.5" font-size="18.9">B1</tspan><tspan dy="-6.5"></tspan></text>
<text x="365.9" y="2045.7" font-size="27" class="sr" textLength="147.8" lengthAdjust="spacingAndGlyphs">V<tspan dy="6.5" font-size="18.9">CC</tspan><tspan dy="-6.5"> = 200V</tspan></text>
<text x="1418.7" y="1530.9" font-size="33.5" class="ti" textLength="51.8" lengthAdjust="spacingAndGlyphs">SW</text>
<line x1="1501.6" y1="1521.4" x2="1518.9" y2="1521.4" stroke-width="3"/>
<text x="1550.5" y="1529.5" font-size="33.5" class="ti">I</text>
<text x="1560.8" y="1536.3" font-size="28" class="ti" textLength="30.6" lengthAdjust="spacingAndGlyphs">B2</text>
<text x="1178.2" y="1550.1" font-size="23" class="sb" text-anchor="end" textLength="10.6" lengthAdjust="spacingAndGlyphs">2</text>
<text x="1178.2" y="1653.6" font-size="23" class="sb" text-anchor="end" textLength="10.6" lengthAdjust="spacingAndGlyphs">7</text>
<text x="1178.2" y="1687.1" font-size="23" class="sb" text-anchor="end" textLength="10.6" lengthAdjust="spacingAndGlyphs">5</text>
<text x="1178.2" y="1737.3" font-size="23" class="sb" text-anchor="end" textLength="10.6" lengthAdjust="spacingAndGlyphs">3</text>
<text x="1178.2" y="1776.7" font-size="23" class="sb" text-anchor="end" textLength="10.6" lengthAdjust="spacingAndGlyphs">2</text>
<text x="1178.2" y="1882.6" font-size="23" class="sb" text-anchor="end" textLength="10.6" lengthAdjust="spacingAndGlyphs">7</text>
<text x="1178.2" y="1917.1" font-size="23" class="sb" text-anchor="end" textLength="10.6" lengthAdjust="spacingAndGlyphs">5</text>
<text x="1178.2" y="1963.9" font-size="23" class="sb" text-anchor="end" textLength="10.6" lengthAdjust="spacingAndGlyphs">3</text>
<text x="1178.2" y="2004.8" font-size="23" class="sb" text-anchor="end" textLength="10.6" lengthAdjust="spacingAndGlyphs">2</text>
<text x="1167.4" y="1615.1" font-size="23" class="sb" text-anchor="end" textLength="21.2" lengthAdjust="spacingAndGlyphs">10</text>
<text x="1174.3" y="1847.2" font-size="23" class="sb" text-anchor="end" textLength="34.2" lengthAdjust="spacingAndGlyphs">1.0</text>
<text x="1174.3" y="2074.7" font-size="23" class="sb" text-anchor="end" textLength="34.2" lengthAdjust="spacingAndGlyphs">0.1</text>
<text x="1181.7" y="2087.1" font-size="23" class="sb" text-anchor="middle" textLength="10.6" lengthAdjust="spacingAndGlyphs">7</text>
<text x="1317.1" y="2087.1" font-size="23" class="sb" text-anchor="middle" textLength="10.6" lengthAdjust="spacingAndGlyphs">2</text>
<text x="1370.3" y="2087.1" font-size="23" class="sb" text-anchor="middle" textLength="10.6" lengthAdjust="spacingAndGlyphs">3</text>
<text x="1435.4" y="2087.1" font-size="23" class="sb" text-anchor="middle" textLength="10.6" lengthAdjust="spacingAndGlyphs">5</text>
<text x="1477.7" y="2087.1" font-size="23" class="sb" text-anchor="middle" textLength="10.6" lengthAdjust="spacingAndGlyphs">7</text>
<text x="1611.7" y="2087.1" font-size="23" class="sb" text-anchor="middle" textLength="10.6" lengthAdjust="spacingAndGlyphs">2</text>
<text x="1667.4" y="2087.1" font-size="23" class="sb" text-anchor="middle" textLength="10.6" lengthAdjust="spacingAndGlyphs">3</text>
<text x="1730.9" y="2087.1" font-size="23" class="sb" text-anchor="middle" textLength="10.6" lengthAdjust="spacingAndGlyphs">5</text>
<text x="1776.7" y="2087.1" font-size="23" class="sb" text-anchor="middle" textLength="10.6" lengthAdjust="spacingAndGlyphs">7</text>
<text x="1227.5" y="2100.4" font-size="23" class="sb" text-anchor="middle" textLength="34.2" lengthAdjust="spacingAndGlyphs">0.1</text>
<text x="1525.5" y="2100.4" font-size="23" class="sb" text-anchor="middle" textLength="34.2" lengthAdjust="spacingAndGlyphs">1.0</text>
<text x="1818.6" y="2100.4" font-size="23" class="sb" text-anchor="middle" textLength="21.2" lengthAdjust="spacingAndGlyphs">10</text>
<text x="1127.4" y="1803" font-size="28.5" class="sr" text-anchor="middle" textLength="415.4" lengthAdjust="spacingAndGlyphs" transform="rotate(-90 1127.4 1803)">Switching Time,SW Time − μs</text>
<text x="1382.7" y="2128.9" font-size="29.5" class="sr" textLength="273.4" lengthAdjust="spacingAndGlyphs">Base Current,I<tspan dy="7.1" font-size="20.6">B2</tspan><tspan dy="-7.1"> − A</tspan></text>
<text x="1697.8" y="1739.7" font-size="27" class="si" text-anchor="middle" textLength="46" lengthAdjust="spacingAndGlyphs" transform="rotate(40 1697.8 1729.9)">t<tspan dy="6.5" font-size="18.9">stg</tspan><tspan dy="-6.5"></tspan></text>
<text x="1711.2" y="1954.3" font-size="27" class="si" text-anchor="middle" textLength="24" lengthAdjust="spacingAndGlyphs" transform="rotate(-35 1711.2 1944.5)">t<tspan dy="6.5" font-size="18.9">f</tspan><tspan dy="-6.5"></tspan></text>
<text x="1190.5" y="1981.6" font-size="27" class="sr" textLength="88.7" lengthAdjust="spacingAndGlyphs">I<tspan dy="6.5" font-size="18.9">C</tspan><tspan dy="-6.5"> = 8A</tspan></text>
<text x="1190.5" y="2016.1" font-size="27" class="sr" textLength="123.2" lengthAdjust="spacingAndGlyphs">I<tspan dy="6.5" font-size="18.9">B1</tspan><tspan dy="-6.5"> = 1.6A</tspan></text>
<text x="1190.5" y="2051.6" font-size="27" class="sr" textLength="145.3" lengthAdjust="spacingAndGlyphs">V<tspan dy="6.5" font-size="18.9">CC</tspan><tspan dy="-6.5"> = 200V</tspan></text>
<text x="535.3" y="2168.1" font-size="33.5" class="ti" textLength="297.7" lengthAdjust="spacingAndGlyphs">Forward Bias A S O</text>
<text x="353.6" y="2186.2" font-size="23" class="sb" text-anchor="end" textLength="10.6" lengthAdjust="spacingAndGlyphs">5</text>
<text x="353.6" y="2212.3" font-size="23" class="sb" text-anchor="end" textLength="10.6" lengthAdjust="spacingAndGlyphs">3</text>
<text x="353.6" y="2236.9" font-size="23" class="sb" text-anchor="end" textLength="10.6" lengthAdjust="spacingAndGlyphs">2</text>
<text x="353.6" y="2324.6" font-size="23" class="sb" text-anchor="end" textLength="10.6" lengthAdjust="spacingAndGlyphs">5</text>
<text x="353.6" y="2356.1" font-size="23" class="sb" text-anchor="end" textLength="10.6" lengthAdjust="spacingAndGlyphs">3</text>
<text x="353.6" y="2384.7" font-size="23" class="sb" text-anchor="end" textLength="10.6" lengthAdjust="spacingAndGlyphs">2</text>
<text x="353.6" y="2465" font-size="23" class="sb" text-anchor="end" textLength="10.6" lengthAdjust="spacingAndGlyphs">5</text>
<text x="353.6" y="2496.5" font-size="23" class="sb" text-anchor="end" textLength="10.6" lengthAdjust="spacingAndGlyphs">3</text>
<text x="353.6" y="2521.6" font-size="23" class="sb" text-anchor="end" textLength="10.6" lengthAdjust="spacingAndGlyphs">2</text>
<text x="353.6" y="2604.4" font-size="23" class="sb" text-anchor="end" textLength="10.6" lengthAdjust="spacingAndGlyphs">5</text>
<text x="353.6" y="2635.9" font-size="23" class="sb" text-anchor="end" textLength="10.6" lengthAdjust="spacingAndGlyphs">3</text>
<text x="353.6" y="2660.6" font-size="23" class="sb" text-anchor="end" textLength="10.6" lengthAdjust="spacingAndGlyphs">2</text>
<text x="341.3" y="2279.8" font-size="23" class="sb" text-anchor="end" textLength="21.2" lengthAdjust="spacingAndGlyphs">10</text>
<text x="341.3" y="2420.2" font-size="23" class="sb" text-anchor="end" textLength="34.2" lengthAdjust="spacingAndGlyphs">1.0</text>
<text x="341.3" y="2563.5" font-size="23" class="sb" text-anchor="end" textLength="34.2" lengthAdjust="spacingAndGlyphs">0.1</text>
<text x="341.3" y="2707.3" font-size="23" class="sb" text-anchor="end" textLength="44.8" lengthAdjust="spacingAndGlyphs">0.01</text>
<text x="357.5" y="2722.1" font-size="23" class="sb" text-anchor="middle" textLength="10.6" lengthAdjust="spacingAndGlyphs">3</text>
<text x="415.2" y="2722.1" font-size="23" class="sb" text-anchor="middle" textLength="10.6" lengthAdjust="spacingAndGlyphs">5</text>
<text x="451.1" y="2722.1" font-size="23" class="sb" text-anchor="middle" textLength="10.6" lengthAdjust="spacingAndGlyphs">7</text>
<text x="567.9" y="2722.1" font-size="23" class="sb" text-anchor="middle" textLength="10.6" lengthAdjust="spacingAndGlyphs">2</text>
<text x="609.8" y="2722.1" font-size="23" class="sb" text-anchor="middle" textLength="10.6" lengthAdjust="spacingAndGlyphs">3</text>
<text x="667.9" y="2722.1" font-size="23" class="sb" text-anchor="middle" textLength="10.6" lengthAdjust="spacingAndGlyphs">5</text>
<text x="705.8" y="2722.1" font-size="23" class="sb" text-anchor="middle" textLength="10.6" lengthAdjust="spacingAndGlyphs">7</text>
<text x="819.1" y="2722.1" font-size="23" class="sb" text-anchor="middle" textLength="10.6" lengthAdjust="spacingAndGlyphs">2</text>
<text x="866.9" y="2722.1" font-size="23" class="sb" text-anchor="middle" textLength="10.6" lengthAdjust="spacingAndGlyphs">3</text>
<text x="922.6" y="2722.1" font-size="23" class="sb" text-anchor="middle" textLength="10.6" lengthAdjust="spacingAndGlyphs">5</text>
<text x="960.5" y="2722.1" font-size="23" class="sb" text-anchor="middle" textLength="10.6" lengthAdjust="spacingAndGlyphs">7</text>
<text x="490.5" y="2735.4" font-size="23" class="sb" text-anchor="middle" textLength="21.2" lengthAdjust="spacingAndGlyphs">10</text>
<text x="747.7" y="2735.4" font-size="23" class="sb" text-anchor="middle" textLength="31.8" lengthAdjust="spacingAndGlyphs">100</text>
<text x="1003.8" y="2735.4" font-size="23" class="sb" text-anchor="middle" textLength="42.4" lengthAdjust="spacingAndGlyphs">1000</text>
<text x="298.4" y="2440.3" font-size="28.5" class="sr" text-anchor="middle" textLength="305.4" lengthAdjust="spacingAndGlyphs" transform="rotate(-90 298.4 2440.3)">Collector Current,I<tspan dy="6.8" font-size="19.9">C</tspan><tspan dy="-6.8"> − A</tspan></text>
<text x="444.7" y="2758.1" font-size="29.5" class="sr" textLength="487.7" lengthAdjust="spacingAndGlyphs">Collector-to-Emitter Voltage,V<tspan dy="7.1" font-size="20.6">CE</tspan><tspan dy="-7.1"> − V</tspan></text>
<text x="380.7" y="2223.6" font-size="27" class="sr" textLength="39.4" lengthAdjust="spacingAndGlyphs">I<tspan dy="6.5" font-size="18.9">CP</tspan><tspan dy="-6.5"></tspan></text>
<text x="380.7" y="2272.9" font-size="27" class="sr" textLength="27.1" lengthAdjust="spacingAndGlyphs">I<tspan dy="6.5" font-size="18.9">C</tspan><tspan dy="-6.5"></tspan></text>
<text x="639.5" y="2311.9" font-size="27" class="sr" text-anchor="middle" textLength="128" lengthAdjust="spacingAndGlyphs" transform="rotate(44.4 639.5 2302.1)">P<tspan dy="6.5" font-size="18.9">C</tspan><tspan dy="-6.5"> = 180W</tspan></text>
<text x="722.8" y="2454.1" font-size="27" class="sr" text-anchor="middle" textLength="162" lengthAdjust="spacingAndGlyphs" transform="rotate(44.5 722.8 2444.3)">DC operation</text>
<text x="807.1" y="2457.1" font-size="27" class="sr" text-anchor="middle" textLength="62" lengthAdjust="spacingAndGlyphs" transform="rotate(46 807.1 2447.3)">10ms</text>
<text x="855.9" y="2373.8" font-size="27" class="sr" text-anchor="middle" textLength="48" lengthAdjust="spacingAndGlyphs" transform="rotate(49 855.9 2364)">1ms</text>
<text x="900.5" y="2280.3" font-size="27" class="sr" text-anchor="middle" textLength="72" lengthAdjust="spacingAndGlyphs" transform="rotate(49.8 900.5 2270.5)">300μs</text>
<text x="940.2" y="2242.8" font-size="27" class="sr" text-anchor="middle" textLength="68" lengthAdjust="spacingAndGlyphs" transform="rotate(48 940.2 2233)">100μs</text>
<text x="365.9" y="2651.2" font-size="27" class="sr" textLength="120.7" lengthAdjust="spacingAndGlyphs">Ta = 25°C</text>
<text x="365.9" y="2685.7" font-size="27" class="sr" textLength="152.7" lengthAdjust="spacingAndGlyphs">Single pulse</text>
<text x="1368.6" y="2168.1" font-size="33.5" class="ti" textLength="282" lengthAdjust="spacingAndGlyphs">Reverse Bias A S O</text>
<text x="1178.2" y="2183.7" font-size="23" class="sb" text-anchor="end" textLength="10.6" lengthAdjust="spacingAndGlyphs">5</text>
<text x="1178.2" y="2223.1" font-size="23" class="sb" text-anchor="end" textLength="10.6" lengthAdjust="spacingAndGlyphs">3</text>
<text x="1178.2" y="2253.2" font-size="23" class="sb" text-anchor="end" textLength="10.6" lengthAdjust="spacingAndGlyphs">2</text>
<text x="1178.2" y="2360.1" font-size="23" class="sb" text-anchor="end" textLength="10.6" lengthAdjust="spacingAndGlyphs">5</text>
<text x="1178.2" y="2400.5" font-size="23" class="sb" text-anchor="end" textLength="10.6" lengthAdjust="spacingAndGlyphs">3</text>
<text x="1178.2" y="2433" font-size="23" class="sb" text-anchor="end" textLength="10.6" lengthAdjust="spacingAndGlyphs">2</text>
<text x="1178.2" y="2534.9" font-size="23" class="sb" text-anchor="end" textLength="10.6" lengthAdjust="spacingAndGlyphs">5</text>
<text x="1178.2" y="2574.3" font-size="23" class="sb" text-anchor="end" textLength="10.6" lengthAdjust="spacingAndGlyphs">3</text>
<text x="1178.2" y="2605.4" font-size="23" class="sb" text-anchor="end" textLength="10.6" lengthAdjust="spacingAndGlyphs">2</text>
<text x="1178.2" y="2707.3" font-size="23" class="sb" text-anchor="end" textLength="10.6" lengthAdjust="spacingAndGlyphs">5</text>
<text x="1165.9" y="2304.9" font-size="23" class="sb" text-anchor="end" textLength="21.2" lengthAdjust="spacingAndGlyphs">10</text>
<text x="1165.9" y="2480.7" font-size="23" class="sb" text-anchor="end" textLength="34.2" lengthAdjust="spacingAndGlyphs">1.0</text>
<text x="1165.9" y="2657.1" font-size="23" class="sb" text-anchor="end" textLength="34.2" lengthAdjust="spacingAndGlyphs">0.1</text>
<text x="1180.7" y="2722.1" font-size="23" class="sb" text-anchor="middle" textLength="10.6" lengthAdjust="spacingAndGlyphs">5</text>
<text x="1235.9" y="2722.1" font-size="23" class="sb" text-anchor="middle" textLength="10.6" lengthAdjust="spacingAndGlyphs">7</text>
<text x="1399.9" y="2722.1" font-size="23" class="sb" text-anchor="middle" textLength="10.6" lengthAdjust="spacingAndGlyphs">2</text>
<text x="1463" y="2722.1" font-size="23" class="sb" text-anchor="middle" textLength="10.6" lengthAdjust="spacingAndGlyphs">3</text>
<text x="1542.8" y="2722.1" font-size="23" class="sb" text-anchor="middle" textLength="10.6" lengthAdjust="spacingAndGlyphs">5</text>
<text x="1598.4" y="2722.1" font-size="23" class="sb" text-anchor="middle" textLength="10.6" lengthAdjust="spacingAndGlyphs">7</text>
<text x="1756.1" y="2722.1" font-size="23" class="sb" text-anchor="middle" textLength="10.6" lengthAdjust="spacingAndGlyphs">2</text>
<text x="1822.6" y="2722.1" font-size="23" class="sb" text-anchor="middle" textLength="10.6" lengthAdjust="spacingAndGlyphs">3</text>
<text x="1292.5" y="2735.4" font-size="23" class="sb" text-anchor="middle" textLength="31.8" lengthAdjust="spacingAndGlyphs">100</text>
<text x="1654.6" y="2735.4" font-size="23" class="sb" text-anchor="middle" textLength="42.4" lengthAdjust="spacingAndGlyphs">1000</text>
<text x="1124" y="2441.6" font-size="28.5" class="sr" text-anchor="middle" textLength="317.7" lengthAdjust="spacingAndGlyphs" transform="rotate(-90 1124 2441.6)">Collector Current,I<tspan dy="6.8" font-size="19.9">C</tspan><tspan dy="-6.8"> − A</tspan></text>
<text x="1259.5" y="2760.5" font-size="29.5" class="sr" textLength="487.7" lengthAdjust="spacingAndGlyphs">Collector-to-Emitter Voltage,V<tspan dy="7.1" font-size="20.6">CE</tspan><tspan dy="-7.1"> − V</tspan></text>
<text x="1189.1" y="2616.7" font-size="27" class="sr" textLength="129.6" lengthAdjust="spacingAndGlyphs">I<tspan dy="6.5" font-size="18.9">B2</tspan><tspan dy="-6.5"> = −2A</tspan></text>
<text x="1189.1" y="2651.2" font-size="27" class="sr" textLength="132" lengthAdjust="spacingAndGlyphs">L = 500μH</text>
<text x="1189.1" y="2685.7" font-size="27" class="sr" textLength="155.7" lengthAdjust="spacingAndGlyphs">Single pulse</text>
</g>
<text x="1001" y="175" font-size="40.5" class="ti" textLength="160" lengthAdjust="spacingAndGlyphs">2SC3996</text>
<path d="M239 201.5 L1923 204.5" fill="none" stroke-width="5" stroke-linejoin="round"/>
<path d="M355 780.4 C355.1 777.9 355.2 770.1 355.3 765.2 C355.4 760.2 355.5 757.6 355.6 750.7 C355.8 743.7 356.1 732.2 356.3 723.6 C356.5 715 356.7 708.6 356.9 699 C357.2 689.4 357.6 676.4 357.9 666.1 C358.2 655.9 358.5 647.8 358.9 637.6 C359.3 627.5 359.7 615.2 360.2 605.4 C360.6 595.6 360.9 588.4 361.5 578.7 C362 568.9 362.8 556.2 363.4 546.9 C364.1 537.6 364.6 530.8 365.3 523 C366.1 515.1 367 506.9 367.9 499.8 C368.9 492.8 370.1 485.9 371.2 480.7 C372.2 475.5 372.8 472.8 374.4 468.6 C376 464.4 378.7 458.9 380.9 455.8 C383 452.7 384.6 451.7 387.3 450.1 C390 448.5 393.8 447.2 397 446.2 C400.3 445.1 402.9 444.7 406.7 443.9 C410.5 443.1 412.1 442.8 419.6 441.4 C427.2 440 441.2 437.5 452 435.5 C462.8 433.5 468.1 432.6 484.3 429.6 C500.5 426.7 527.4 421.8 549 417.9 C570.5 413.9 592.1 410 613.6 406.1 C635.1 402.2 656.7 398.3 678.2 394.4 C699.8 390.4 721.4 386.5 742.9 382.6 C764.5 378.7 786 374.8 807.6 370.8 C829.1 366.9 850.7 363 872.2 359.1 C893.8 355.2 915.3 351.3 936.9 347.3 C958.4 343.4 990.7 337.5 1001.5 335.6" fill="none" stroke-width="3.6" stroke-linejoin="round" stroke-linecap="round"/>
<path d="M355 780.4 C355.1 777.3 355.2 767.7 355.3 762 C355.4 756.2 355.5 753.4 355.6 745.9 C355.8 738.5 356.1 726.4 356.3 717.5 C356.5 708.7 356.7 702.2 356.9 692.7 C357.2 683.3 357.6 670.6 357.9 660.8 C358.2 651.1 358.5 643.4 358.9 634 C359.3 624.6 359.7 613.4 360.2 604.5 C360.6 595.6 360.9 589.2 361.5 580.6 C362 572 362.8 560.9 363.4 552.8 C364.1 544.8 364.6 539 365.3 532.3 C366.1 525.6 367 518.7 367.9 512.8 C368.9 506.9 370.1 501.1 371.2 496.8 C372.2 492.5 372.8 490.2 374.4 486.7 C376 483.2 378.7 478.6 380.9 475.9 C383 473.3 384.6 472.4 387.3 471 C390 469.6 393.8 468.3 397 467.4 C400.3 466.4 402.9 466 406.7 465.2 C410.5 464.4 412.1 464.1 419.6 462.8 C427.2 461.4 441.2 458.9 452 457 C462.8 455.1 468.1 454.2 484.3 451.3 C500.5 448.5 527.4 443.7 549 439.9 C570.5 436.1 592.1 432.3 613.6 428.5 C635.1 424.7 656.7 420.9 678.2 417.1 C699.8 413.3 721.4 409.5 742.9 405.8 C764.5 402 786 398.2 807.6 394.4 C829.1 390.6 850.7 386.8 872.2 383 C893.8 379.2 915.3 375.4 936.9 371.6 C958.4 367.8 990.7 362.1 1001.5 360.2" fill="none" stroke-width="3.6" stroke-linejoin="round" stroke-linecap="round"/>
<path d="M355 780.4 C355.1 776.7 355.2 764.8 355.3 758.2 C355.4 751.6 355.5 748.5 355.6 740.7 C355.8 732.8 356.1 720.2 356.3 711.2 C356.5 702.1 356.7 695.7 356.9 686.5 C357.2 677.3 357.6 665.2 357.9 656 C358.2 646.7 358.5 639.7 358.9 631.1 C359.3 622.5 359.7 612.3 360.2 604.4 C360.6 596.4 360.9 590.8 361.5 583.3 C362 575.8 362.8 566.2 363.4 559.3 C364.1 552.4 364.6 547.6 365.3 541.9 C366.1 536.3 367 530.5 367.9 525.6 C368.9 520.7 370.1 516 371.2 512.4 C372.2 508.8 372.8 506.9 374.4 504 C376 501.1 378.7 497.2 380.9 494.9 C383 492.7 384.6 491.9 387.3 490.6 C390 489.4 393.8 488.2 397 487.3 C400.3 486.4 402.9 485.9 406.7 485.2 C410.5 484.4 412.1 484.1 419.6 482.8 C427.2 481.5 441.2 479.1 452 477.3 C462.8 475.4 468.1 474.5 484.3 471.7 C500.5 469 527.4 464.4 549 460.7 C570.5 457 592.1 453.4 613.6 449.7 C635.1 446 656.7 442.3 678.2 438.6 C699.8 435 721.4 431.3 742.9 427.6 C764.5 423.9 786 420.2 807.6 416.6 C829.1 412.9 850.7 409.2 872.2 405.5 C893.8 401.9 915.3 398.2 936.9 394.5 C958.4 390.8 990.7 385.3 1001.5 383.5" fill="none" stroke-width="3.6" stroke-linejoin="round" stroke-linecap="round"/>
<path d="M355 780.4 C355.1 776.1 355.2 761.8 355.3 754.4 C355.4 746.9 355.5 743.8 355.6 735.8 C355.8 727.8 356.1 715.2 356.3 706.3 C356.5 697.5 356.7 691.4 356.9 682.8 C357.2 674.1 357.6 663 357.9 654.6 C358.2 646.2 358.5 639.9 358.9 632.4 C359.3 624.8 359.7 616 360.2 609.2 C360.6 602.3 360.9 597.6 361.5 591.3 C362 584.9 362.8 577 363.4 571.3 C364.1 565.6 364.6 561.6 365.3 557 C366.1 552.4 367 547.8 367.9 543.8 C368.9 539.8 370.1 536 371.2 533.1 C372.2 530.2 372.8 528.7 374.4 526.3 C376 523.9 378.7 520.7 380.9 518.8 C383 516.9 384.6 516.2 387.3 515.1 C390 513.9 393.8 512.8 397 511.9 C400.3 511.1 402.9 510.6 406.7 509.8 C410.5 509.1 412.1 508.8 419.6 507.4 C427.2 506.1 441.2 503.6 452 501.7 C462.8 499.9 468.1 498.9 484.3 496.1 C500.5 493.3 527.4 488.6 549 484.9 C570.5 481.1 592.1 477.4 613.6 473.6 C635.1 469.9 656.7 466.1 678.2 462.4 C699.8 458.6 721.4 454.9 742.9 451.1 C764.5 447.4 786 443.6 807.6 439.9 C829.1 436.1 850.7 432.4 872.2 428.6 C893.8 424.9 915.3 421.1 936.9 417.4 C958.4 413.6 990.7 408 1001.5 406.1" fill="none" stroke-width="3.6" stroke-linejoin="round" stroke-linecap="round"/>
<path d="M355 780.4 C355.1 775.3 355.2 758.3 355.3 750 C355.4 741.7 355.5 738.7 355.6 730.7 C355.8 722.6 356.1 710.1 356.3 701.6 C356.5 693 356.7 687.4 356.9 679.4 C357.2 671.5 357.6 661.4 357.9 653.9 C358.2 646.4 358.5 640.9 358.9 634.4 C359.3 627.8 359.7 620.4 360.2 614.6 C360.6 608.8 360.9 604.8 361.5 599.6 C362 594.4 362.8 587.9 363.4 583.3 C364.1 578.6 364.6 575.4 365.3 571.7 C366.1 568 367 564.3 367.9 561.1 C368.9 558 370.1 554.9 371.2 552.6 C372.2 550.3 372.8 549.1 374.4 547.2 C376 545.2 378.7 542.5 380.9 541 C383 539.4 384.6 538.7 387.3 537.7 C390 536.7 393.8 535.6 397 534.8 C400.3 534 402.9 533.5 406.7 532.8 C410.5 532 412.1 531.7 419.6 530.4 C427.2 529.1 441.2 526.7 452 524.8 C462.8 522.9 468.1 522 484.3 519.3 C500.5 516.5 527.4 511.9 549 508.2 C570.5 504.5 592.1 500.8 613.6 497.1 C635.1 493.4 656.7 489.7 678.2 486.1 C699.8 482.4 721.4 478.7 742.9 475 C764.5 471.3 786 467.6 807.6 463.9 C829.1 460.2 850.7 456.5 872.2 452.8 C893.8 449.1 915.3 445.5 936.9 441.8 C958.4 438.1 990.7 432.5 1001.5 430.7" fill="none" stroke-width="3.6" stroke-linejoin="round" stroke-linecap="round"/>
<path d="M355 780.4 C355.1 775 355.2 756.6 355.3 748.1 C355.4 739.7 355.5 737.3 355.6 729.9 C355.8 722.4 356.1 711.2 356.3 703.7 C356.5 696.1 356.7 691.3 356.9 684.5 C357.2 677.7 357.6 669.2 357.9 663 C358.2 656.7 358.5 652.2 358.9 646.8 C359.3 641.4 359.7 635.4 360.2 630.6 C360.6 625.9 360.9 622.7 361.5 618.5 C362 614.3 362.8 609 363.4 605.2 C364.1 601.5 364.6 598.9 365.3 595.9 C366.1 592.8 367 589.8 367.9 587.1 C368.9 584.5 370.1 581.9 371.2 579.9 C372.2 577.9 372.8 576.9 374.4 575.2 C376 573.5 378.7 571 380.9 569.6 C383 568.1 384.6 567.4 387.3 566.4 C390 565.4 393.8 564.3 397 563.4 C400.3 562.6 402.9 562.1 406.7 561.3 C410.5 560.6 412.1 560.2 419.6 558.9 C427.2 557.6 441.2 555.2 452 553.3 C462.8 551.5 468.1 550.6 484.3 547.9 C500.5 545.1 527.4 540.6 549 536.9 C570.5 533.3 592.1 529.7 613.6 526 C635.1 522.4 656.7 518.7 678.2 515.1 C699.8 511.5 721.4 507.8 742.9 504.2 C764.5 500.5 786 496.9 807.6 493.2 C829.1 489.6 850.7 486 872.2 482.3 C893.8 478.7 915.3 475 936.9 471.4 C958.4 467.7 990.7 462.3 1001.5 460.5" fill="none" stroke-width="3.6" stroke-linejoin="round" stroke-linecap="round"/>
<path d="M355 780.4 C355.1 775 355.2 756.2 355.3 748.1 C355.4 740 355.5 738.3 355.6 731.9 C355.8 725.4 356.1 715.9 356.3 709.6 C356.5 703.2 356.7 699.3 356.9 693.8 C357.2 688.2 357.6 681.4 357.9 676.3 C358.2 671.2 358.5 667.7 358.9 663.4 C359.3 659.1 359.7 654.2 360.2 650.5 C360.6 646.7 360.9 644.2 361.5 640.7 C362 637.3 362.8 633.1 363.4 630 C364.1 627 364.6 624.9 365.3 622.3 C366.1 619.8 367 617.3 367.9 615 C368.9 612.8 370.1 610.5 371.2 608.8 C372.2 607 372.8 606.1 374.4 604.5 C376 602.9 378.7 600.6 380.9 599.1 C383 597.7 384.6 597 387.3 595.9 C390 594.9 393.8 593.7 397 592.8 C400.3 591.9 402.9 591.4 406.7 590.6 C410.5 589.8 412.1 589.5 419.6 588.2 C427.2 586.9 441.2 584.5 452 582.8 C462.8 581 468.1 580.1 484.3 577.5 C500.5 574.9 527.4 570.6 549 567.1 C570.5 563.7 592.1 560.2 613.6 556.8 C635.1 553.3 656.7 549.8 678.2 546.4 C699.8 542.9 721.4 539.4 742.9 536 C764.5 532.5 786 529.1 807.6 525.6 C829.1 522.1 850.7 518.7 872.2 515.2 C893.8 511.7 915.3 508.3 936.9 504.8 C958.4 501.4 990.7 496.2 1001.5 494.4" fill="none" stroke-width="3.6" stroke-linejoin="round" stroke-linecap="round"/>
<path d="M355 780.4 C355.1 775.4 355.2 757.6 355.3 750.3 C355.4 743.1 355.5 742.1 355.6 737 C355.8 731.8 356.1 724.4 356.3 719.4 C356.5 714.5 356.7 711.5 356.9 707.3 C357.2 703.1 357.6 697.9 357.9 694.1 C358.2 690.3 358.5 687.6 358.9 684.4 C359.3 681.1 359.7 677.5 360.2 674.7 C360.6 671.8 360.9 669.9 361.5 667.3 C362 664.8 362.8 661.5 363.4 659.2 C364.1 656.8 364.6 655.1 365.3 653.2 C366.1 651.2 367 649.1 367.9 647.3 C368.9 645.5 370.1 643.6 371.2 642.1 C372.2 640.6 372.8 639.9 374.4 638.4 C376 637 378.7 634.9 380.9 633.5 C383 632.2 384.6 631.4 387.3 630.4 C390 629.3 393.8 628.1 397 627.2 C400.3 626.3 402.9 625.7 406.7 624.9 C410.5 624.1 412.1 623.7 419.6 622.4 C427.2 621.1 441.2 618.8 452 617 C462.8 615.3 468.1 614.5 484.3 612 C500.5 609.5 527.4 605.4 549 602 C570.5 598.7 592.1 595.4 613.6 592.1 C635.1 588.8 656.7 585.5 678.2 582.2 C699.8 578.9 721.4 575.6 742.9 572.3 C764.5 569 786 565.7 807.6 562.4 C829.1 559.1 850.7 555.7 872.2 552.4 C893.8 549.1 915.3 545.8 936.9 542.5 C958.4 539.2 990.7 534.3 1001.5 532.6" fill="none" stroke-width="3.6" stroke-linejoin="round" stroke-linecap="round"/>
<path d="M355 780.4 C355.1 776 355.2 760.1 355.3 754 C355.4 747.9 355.5 747.6 355.6 743.8 C355.8 739.9 356.1 734.4 356.3 730.8 C356.5 727.2 356.7 725.1 356.9 722.1 C357.2 719.1 357.6 715.4 357.9 712.7 C358.2 710 358.5 708.2 358.9 705.9 C359.3 703.6 359.7 701 360.2 699 C360.6 697 360.9 695.7 361.5 693.8 C362 692 362.8 689.6 363.4 687.9 C364.1 686.2 364.6 685 365.3 683.5 C366.1 682.1 367 680.5 367.9 679.1 C368.9 677.7 370.1 676.3 371.2 675.1 C372.2 674 372.8 673.3 374.4 672.2 C376 671 378.7 669.2 380.9 668 C383 666.8 384.6 666.1 387.3 665.1 C390 664.2 393.8 663 397 662.1 C400.3 661.2 402.9 660.6 406.7 659.9 C410.5 659.1 412.1 658.6 419.6 657.4 C427.2 656.1 441.2 653.8 452 652.2 C462.8 650.5 468.1 649.8 484.3 647.5 C500.5 645.1 527.4 641.3 549 638.3 C570.5 635.2 592.1 632.2 613.6 629.1 C635.1 626.1 656.7 623 678.2 620 C699.8 616.9 721.4 613.9 742.9 610.9 C764.5 607.8 786 604.8 807.6 601.7 C829.1 598.7 850.7 595.6 872.2 592.6 C893.8 589.5 915.3 586.5 936.9 583.5 C958.4 580.4 990.7 575.9 1001.5 574.3" fill="none" stroke-width="3.6" stroke-linejoin="round" stroke-linecap="round"/>
<path d="M355 780.4 C355.1 777.7 355.2 768 355.3 764.4 C355.4 760.9 355.5 761.1 355.6 759.1 C355.8 757.1 356.1 754.4 356.3 752.6 C356.5 750.8 356.7 749.7 356.9 748.2 C357.2 746.8 357.6 745 357.9 743.6 C358.2 742.3 358.5 741.4 358.9 740.3 C359.3 739.2 359.7 737.9 360.2 736.9 C360.6 735.9 360.9 735.2 361.5 734.3 C362 733.4 362.8 732.2 363.4 731.3 C364.1 730.4 364.6 729.8 365.3 729 C366.1 728.2 367 727.4 367.9 726.6 C368.9 725.8 370.1 725 371.2 724.4 C372.2 723.7 372.8 723.3 374.4 722.6 C376 721.8 378.7 720.7 380.9 719.9 C383 719.1 384.6 718.6 387.3 717.9 C390 717.2 393.8 716.3 397 715.6 C400.3 714.9 402.9 714.4 406.7 713.7 C410.5 713 412.1 712.7 419.6 711.5 C427.2 710.4 441.2 708.4 452 706.9 C462.8 705.4 468.1 704.7 484.3 702.6 C500.5 700.5 527.4 697 549 694.3 C570.5 691.5 592.1 688.8 613.6 686.1 C635.1 683.3 656.7 680.6 678.2 677.9 C699.8 675.2 721.4 672.5 742.9 669.7 C764.5 667 786 664.3 807.6 661.6 C829.1 658.8 850.7 656.1 872.2 653.4 C893.8 650.7 915.3 648 936.9 645.2 C958.4 642.5 990.7 638.4 1001.5 637.1" fill="none" stroke-width="3.6" stroke-linejoin="round" stroke-linecap="round"/>
<line x1="462.6" y1="296.2" x2="562.8" y2="399.8" stroke-width="1.5"/>
<path d="M569.7 407 L558.8 400.8 L563.9 395.9 Z" style="stroke:none" fill="#000"/>
<line x1="462.6" y1="320.2" x2="559.1" y2="422.8" stroke-width="1.5"/>
<path d="M566 430.1 L555.2 423.8 L560.3 419 Z" style="stroke:none" fill="#000"/>
<line x1="460.7" y1="342.4" x2="555.5" y2="445.8" stroke-width="1.5"/>
<path d="M562.3 453.2 L551.6 446.7 L556.8 442 Z" style="stroke:none" fill="#000"/>
<line x1="462.6" y1="367.3" x2="555.5" y2="468" stroke-width="1.5"/>
<path d="M562.3 475.4 L551.6 469 L556.7 464.2 Z" style="stroke:none" fill="#000"/>
<line x1="461.6" y1="392.2" x2="551" y2="492" stroke-width="1.5"/>
<path d="M557.7 499.4 L547.1 492.8 L552.3 488.1 Z" style="stroke:none" fill="#000"/>
<line x1="459.8" y1="419" x2="550.1" y2="517.9" stroke-width="1.5"/>
<path d="M556.8 525.3 L546.1 518.8 L551.3 514.1 Z" style="stroke:none" fill="#000"/>
<path d="M798.6 505.7 Q780 506 778.1 514.2" fill="none" stroke-width="1.6"/>
<path d="M776.3 522 L775.1 511.5 L782 513 Z" style="stroke:none" fill="#000"/>
<path d="M806 542.3 Q788 543 786.3 553.4" fill="none" stroke-width="1.6"/>
<path d="M785 561.3 L783.2 550.9 L790.1 552 Z" style="stroke:none" fill="#000"/>
<path d="M1391 781.8 L1417.9 781.8 L1417.9 781.8 L1417.9 781.8 L1417.9 781.8 L1417.9 781.8 L1417.9 781.8 L1417.9 781.8 L1417.9 781.8 L1417.9 781.8 L1417.9 781.8 L1417.9 781.8 L1417.9 781.8 L1417.9 781.8 L1417.9 781.8 L1417.9 781.8 L1417.9 781.8 L1418 781.8 L1418 781.8 L1418 781.8 L1418 781.7 L1418 781.7 L1418 781.7 L1418.1 781.7 L1418.1 781.7 L1418.1 781.7 L1418.2 781.7 L1418.2 781.6 L1418.3 781.6 L1418.3 781.6 L1418.4 781.6 L1418.5 781.5 L1418.6 781.5 L1418.7 781.4 L1418.8 781.4 L1419 781.3 L1419.1 781.2 L1419.3 781.1 L1419.5 781 L1419.8 780.9 L1420.1 780.7 L1420.4 780.5 L1420.8 780.3 L1421.3 780.1 L1421.8 779.8 L1422.4 779.5 L1423.1 779.1 L1423.8 778.7 L1424.7 778.2 L1425.6 777.6 L1426.7 777 L1428 776.2 L1429.3 775.3 L1430.9 774.2 L1432.6 773 L1434.5 771.6 L1436.6 770 L1438.9 768.1 L1441.4 765.9 L1444.1 763.3 L1447.2 760.4 L1450.5 756.9 L1454.1 752.9 L1458.1 748.3 L1462.5 742.9 L1467.2 736.6 L1472.4 729.4 L1478.2 720.9 L1484.5 711.2 L1491.5 699.8 L1499.2 686.6 L1507.8 671.3 L1517.4 653.6 L1528.1 633 L1540.2 609 L1553.7 581.3 L1569.1 549 L1586.4 511.6 L1606.1 468.2 L1628.5 417.8 L1654 359.3 L1683.2 291.4" fill="none" stroke-width="3.6" stroke-linejoin="round"/>
<path d="M1500.7 781.8 L1500.8 781.8 L1501.5 781.8 L1502.2 781.8 L1502.9 781.8 L1503.6 781.8 L1504.3 781.8 L1505 781.7 L1505.8 781.7 L1506.5 781.7 L1507.2 781.7 L1507.9 781.7 L1508.6 781.7 L1509.3 781.7 L1510 781.6 L1510.8 781.6 L1511.5 781.6 L1512.2 781.6 L1512.9 781.5 L1513.6 781.5 L1514.4 781.4 L1515.1 781.4 L1515.8 781.3 L1516.6 781.2 L1517.3 781.1 L1518.1 781 L1518.8 780.9 L1519.6 780.7 L1520.4 780.5 L1521.1 780.3 L1521.9 780.1 L1522.7 779.8 L1523.5 779.5 L1524.4 779.1 L1525.2 778.7 L1526.1 778.2 L1527 777.6 L1528 777 L1528.9 776.2 L1529.9 775.3 L1531 774.2 L1532.1 773 L1533.3 771.6 L1534.6 770 L1536 768.1 L1537.4 765.9 L1539 763.3 L1540.7 760.3 L1542.6 756.9 L1544.7 752.9 L1547 748.2 L1549.5 742.8 L1552.4 736.6 L1555.5 729.3 L1559.1 720.9 L1563.2 711.1 L1567.7 699.7 L1572.9 686.5 L1578.9 671.2 L1585.6 653.4 L1593.4 632.8 L1602.2 608.8 L1612.4 581 L1624.1 548.7 L1637.6 511.3 L1653.1 467.8 L1671 417.3 L1691.6 358.7 L1715.5 290.7" fill="none" stroke-width="3.6" stroke-linejoin="round"/>
<path d="M1552.4 781.8 L1552.9 781.8 L1553.5 781.8 L1554 781.8 L1554.6 781.8 L1555.1 781.8 L1555.6 781.8 L1556.2 781.8 L1556.7 781.8 L1557.3 781.8 L1557.8 781.8 L1558.4 781.8 L1558.9 781.7 L1559.5 781.7 L1560 781.7 L1560.5 781.7 L1561.1 781.7 L1561.6 781.7 L1562.2 781.7 L1562.7 781.6 L1563.3 781.6 L1563.8 781.6 L1564.4 781.6 L1564.9 781.5 L1565.5 781.5 L1566.1 781.4 L1566.6 781.4 L1567.2 781.3 L1567.7 781.2 L1568.3 781.1 L1568.9 781 L1569.5 780.9 L1570.1 780.7 L1570.7 780.5 L1571.3 780.3 L1571.9 780.1 L1572.5 779.8 L1573.1 779.5 L1573.8 779.1 L1574.5 778.7 L1575.1 778.2 L1575.9 777.6 L1576.6 777 L1577.4 776.2 L1578.2 775.3 L1579 774.2 L1579.9 773 L1580.9 771.6 L1581.9 770 L1583 768.1 L1584.2 765.9 L1585.5 763.3 L1587 760.3 L1588.5 756.9 L1590.3 752.8 L1592.2 748.2 L1594.3 742.8 L1596.7 736.5 L1599.4 729.2 L1602.5 720.8 L1605.9 711 L1609.9 699.6 L1614.3 686.4 L1619.4 671 L1625.3 653.2 L1631.9 632.6 L1639.6 608.6 L1648.4 580.7 L1658.5 548.4 L1670.2 510.9 L1683.7 467.3 L1699.2 416.8 L1717.2 358.1 L1737.9 290" fill="none" stroke-width="3.6" stroke-linejoin="round"/>
<path d="M392 993 C402.9 992 436.4 989 457 987.1 C477.7 985.2 496.5 983.4 516.2 981.7 C535.9 980 559.3 978.1 575.3 976.7 C591.3 975.4 599.9 974.7 612.2 973.8 C624.5 972.9 641.2 971.6 649.2 971.3 C657.1 971.1 656.1 971.5 660 972.3 C663.9 973.1 668 974 672.8 976.3 C677.6 978.5 682.7 981.6 688.6 985.6 C694.5 989.6 701.7 995.1 708.3 1000.4 C714.8 1005.7 720.6 1010.7 728 1017.6 C735.4 1024.6 744.4 1034.1 752.6 1042.3 C760.8 1050.5 768.2 1057.2 777.2 1066.9 C786.3 1076.6 796.9 1089.3 806.8 1100.4 C816.7 1111.5 824.9 1119.7 836.4 1133.4 C847.8 1147.1 861.8 1165 875.8 1182.7 C889.7 1200.3 904.9 1220 920.1 1239.3 C935.3 1258.6 959.1 1288.6 966.9 1298.4" fill="none" stroke-width="3.6" stroke-linejoin="round" stroke-linecap="round"/>
<path d="M392 1062 C402.9 1061.1 436.4 1058.5 457 1057 C477.7 1055.6 496.5 1054.5 516.2 1053.1 C535.9 1051.7 559.3 1049.9 575.3 1048.7 C591.3 1047.4 598.6 1046.8 612.2 1045.7 C625.8 1044.6 637.6 1043.5 657 1042.3 C676.5 1041 712.2 1039 729 1038.3 C745.7 1037.7 750.7 1037.5 757.5 1038.3 C764.4 1039.1 765.7 1040.5 769.9 1043.3 C774 1046 776 1047.8 782.2 1054.6 C788.3 1061.4 797.8 1073.9 806.8 1084.1 C815.8 1094.4 824.9 1103.4 836.4 1116.2 C847.8 1128.9 861.8 1143.7 875.8 1160.5 C889.7 1177.3 905.3 1198.3 920.1 1217.1 C934.9 1236 957 1264.4 964.4 1273.8" fill="none" stroke-width="3.6" stroke-linejoin="round" stroke-linecap="round"/>
<path d="M392 1158 C405.3 1156.1 451.1 1150 471.8 1146.7 C492.5 1143.4 498.9 1141.4 516.2 1138.3 C533.4 1135.3 559.3 1131.2 575.3 1128.5 C591.3 1125.8 598.6 1124.4 612.2 1122.1 C625.8 1119.8 641.9 1117.3 657 1114.7 C672.2 1112.1 691.4 1108.5 703.3 1106.3 C715.3 1104.1 716.7 1102.4 729 1101.4 C741.3 1100.3 765.1 1099.5 777.2 1099.9 C789.4 1100.3 794.5 1102.2 801.9 1103.8 C809.3 1105.5 815.3 1107.5 821.6 1109.8 C827.8 1112.1 836.4 1116.3 839.3 1117.6" fill="none" stroke-width="3.6" stroke-linejoin="round" stroke-linecap="round"/>
<path d="M1213 1376 C1225.8 1377 1264.7 1381.2 1290 1382 C1315.3 1382.8 1340 1382.2 1365 1381 C1390 1379.8 1417.5 1377.8 1440 1375 C1462.5 1372.2 1485.8 1367.3 1500 1364 C1514.2 1360.7 1512.8 1359.3 1525 1355 C1537.2 1350.7 1558.5 1344.8 1573 1338 C1587.5 1331.2 1603 1319.9 1612 1314 C1621 1308.1 1621.7 1307.1 1627 1302.5 C1632.3 1297.9 1638 1293.9 1644 1286.5 C1650 1279.1 1657.7 1267.6 1663 1258 C1668.3 1248.4 1672.5 1237 1676 1229 C1679.5 1221 1679.8 1220.8 1684 1210 C1688.2 1199.2 1695.9 1181 1700.9 1164.3 C1706 1147.6 1710.9 1125.3 1714.3 1109.8 C1717.7 1094.3 1718.6 1085 1721.1 1071.1 C1723.6 1057.1 1726.8 1044.3 1729.3 1026.1 C1731.8 1007.9 1735.2 972.7 1736.4 962" fill="none" stroke-width="3.6" stroke-linejoin="round" stroke-linecap="round"/>
<path d="M1213 1379 C1225.8 1380.2 1264.7 1384.5 1290 1386 C1315.3 1387.5 1340 1388.3 1365 1388 C1390 1387.7 1417.5 1385.7 1440 1384 C1462.5 1382.3 1477.8 1382.5 1500 1378 C1522.2 1373.5 1551.8 1365.2 1573 1357 C1594.2 1348.8 1615.2 1336.1 1627 1329 C1638.8 1321.9 1638 1321 1644 1314.5 C1650 1308 1657.7 1297.9 1663 1290 C1668.3 1282.1 1671.2 1277.2 1676 1267 C1680.8 1256.8 1688 1238.3 1692 1229 C1696 1219.7 1695.5 1221.8 1700 1211 C1704.5 1200.2 1714 1181.2 1719 1164.3 C1724 1147.4 1727.2 1125.3 1730.1 1109.8 C1733 1094.3 1734.6 1085 1736.4 1071.1 C1738.2 1057.1 1739.1 1044.5 1741.1 1026.1 C1743.1 1007.7 1747 971.4 1748.2 960.5" fill="none" stroke-width="3.6" stroke-linejoin="round" stroke-linecap="round"/>
<path d="M1213 1384 C1225.8 1385.7 1267.8 1391.7 1290 1394 C1312.2 1396.3 1327.7 1397.5 1346 1398 C1364.3 1398.5 1381.5 1398.2 1400 1397 C1418.5 1395.8 1440.3 1393.5 1457 1391 C1473.7 1388.5 1480.7 1387.3 1500 1382 C1519.3 1376.7 1551.8 1367.3 1573 1359 C1594.2 1350.7 1612 1340.8 1627 1332 C1642 1323.2 1653.5 1316 1663 1306.5 C1672.5 1297 1677.3 1287.9 1684 1275 C1690.7 1262.1 1698.7 1240.2 1703 1229 C1707.3 1217.8 1706.4 1218.8 1710 1208 C1713.6 1197.2 1721.2 1180.7 1724.5 1164.3 C1727.8 1147.9 1728.1 1125.3 1730.1 1109.8 C1732.1 1094.3 1734.6 1085 1736.4 1071.1 C1738.2 1057.1 1739.1 1044.5 1741.1 1026.1 C1743.1 1007.7 1747 971.4 1748.2 960.5" fill="none" stroke-width="3.6" stroke-linejoin="round" stroke-linecap="round"/>
<path d="M1525.4 1335 Q1545 1333 1546.5 1336.8" fill="none" stroke-width="1.6"/>
<path d="M1549.4 1344.2 L1542.5 1336.2 L1549 1333.6 Z" style="stroke:none" fill="#000"/>
<path d="M1663.3 1216 Q1682 1196 1692.4 1211" fill="none" stroke-width="1.6"/>
<path d="M1697 1217.6 L1688.4 1211.4 L1694.2 1207.4 Z" style="stroke:none" fill="#000"/>
<path d="M1716.1 1275.2 Q1716 1250 1711.2 1249.2" fill="none" stroke-width="1.6"/>
<path d="M1703.3 1248 L1713.7 1246.1 L1712.6 1253 Z" style="stroke:none" fill="#000"/>
<path d="M437.3 1639.3 C446 1639.3 471.8 1638.9 489.6 1639.3 C507.3 1639.7 524.5 1640.8 543.7 1641.7 C563 1642.6 586.7 1643.7 604.8 1644.7 C623 1645.7 634.2 1645.9 652.6 1647.6 C671 1649.4 691.8 1651.7 715.2 1655 C738.6 1658.3 771.3 1662.8 793 1667.3 C814.7 1671.9 826.5 1676.5 845.2 1682.1 C863.9 1687.7 885.5 1693.9 905.3 1700.8 C925.2 1707.8 954.6 1720.1 964.4 1724" fill="none" stroke-width="3.6" stroke-linejoin="round" stroke-linecap="round"/>
<path d="M432.4 1893 C441.9 1894.1 471 1896.6 489.6 1899.9 C508.1 1903.1 524.5 1907.2 543.7 1912.7 C563 1918.1 586.7 1926.9 604.8 1932.4 C623 1937.9 634.2 1940.2 652.6 1945.7 C671 1951.2 691.8 1957.7 715.2 1965.4 C738.6 1973 771.3 1984.3 793 1991.5 C814.7 1998.6 831.4 2003.8 845.2 2008.2 C859 2012.7 868.2 2016 875.8 2018.1 C883.3 2020.1 885.6 2020.9 890.5 2020.5 C895.5 2020.2 893.8 2021.6 905.3 2016.1 C916.8 2010.6 950.5 1992.3 959.5 1987.5" fill="none" stroke-width="3.6" stroke-linejoin="round" stroke-linecap="round"/>
<path d="M1330.5 1606.4 C1337.6 1607.9 1355.6 1611.1 1373.2 1615.3 C1390.8 1619.5 1418.8 1626.5 1436.2 1631.6 C1453.6 1636.7 1462.7 1640.4 1477.6 1645.8 C1492.5 1651.2 1511.1 1658.3 1525.5 1664.1 C1539.9 1669.8 1549.8 1673.9 1564.2 1680.3 C1578.6 1686.7 1594.6 1694.1 1611.7 1702.7 C1628.8 1711.3 1652.2 1723.9 1666.6 1732 C1681 1740.1 1687.2 1744.5 1698.2 1751.5 C1709.2 1758.5 1721.3 1765.2 1732.8 1773.8 C1744.3 1782.4 1761.5 1798.2 1767.3 1803.1" fill="none" stroke-width="3.6" stroke-linejoin="round" stroke-linecap="round"/>
<path d="M1226.9 1779.9 C1241.9 1784.3 1293.3 1799 1317.1 1806.3 C1340.9 1813.5 1355.1 1818 1369.9 1823.4 C1384.7 1828.8 1394.7 1834.2 1405.7 1838.8 C1416.8 1843.4 1424.2 1845.6 1436.2 1851 C1448.2 1856.4 1462.7 1863.5 1477.6 1871.3 C1492.5 1879.1 1510.4 1888.9 1525.5 1897.7 C1540.6 1906.5 1554.3 1914.6 1568.2 1924.1 C1582.1 1933.6 1598.6 1945.8 1608.8 1954.6 C1619 1963.4 1623.4 1969.2 1629.2 1977 C1635 1984.8 1639 1995 1643.4 2001.4 C1647.8 2007.8 1651.7 2012.3 1655.6 2015.6 C1659.5 2018.8 1662.2 2020.9 1666.6 2020.9 C1671 2020.9 1676.7 2018.8 1682 2015.6 C1687.3 2012.3 1692.8 2008.5 1698.2 2001.4 C1703.6 1994.3 1708.7 1981 1714.5 1972.9 C1720.3 1964.8 1724.3 1961.1 1732.8 1952.6 C1741.3 1944.1 1759.9 1927.2 1765.3 1922.1" fill="none" stroke-width="3.6" stroke-linejoin="round" stroke-linecap="round"/>
<path d="M357.5 2194.6 L881.7 2194.6 L959.5 2282.7" fill="none" stroke-width="3.6" stroke-linejoin="round"/>
<path d="M959.5 2290 L977.7 2305.7 L977.7 2699" fill="none" stroke-width="3.6" stroke-linejoin="round"/>
<path d="M809 2194.6 L975.5 2381" fill="none" stroke-width="3.2" stroke-linejoin="round"/>
<path d="M679.3 2194.6 L973.9 2521.7" fill="none" stroke-width="3.2" stroke-linejoin="round"/>
<path d="M568.8 2194.6 L668.5 2293 L705.8 2346.7 L752.6 2413.3 L975.5 2633.7" fill="none" stroke-width="3.2" stroke-linejoin="round"/>
<path d="M357.5 2246 L513 2246 L560 2276 L610 2305 L660 2347 L705 2391 L975.5 2664" fill="none" stroke-width="3.6" stroke-linejoin="round"/>
<path d="M693.7 2366.5 Q703 2372 702.6 2376.1" fill="none" stroke-width="1.6"/>
<path d="M701.7 2384.1 L699.3 2373.8 L706.2 2374.5 Z" style="stroke:none" fill="#000"/>
<path d="M1180.7 2202.4 L1542.8 2202.4 L1596.9 2297.5 L1596.9 2329.5 L1620.1 2372.4 L1620.1 2440.3 L1712.7 2503.4 L1712.7 2701.4" fill="none" stroke-width="4" stroke-linejoin="round"/>
<line x1="355" y1="260.1" x2="355" y2="785.1" stroke-width="1.9"/>
<line x1="1002.4" y1="260.1" x2="1002.4" y2="785.1" stroke-width="2.8"/>
<line x1="354.1" y1="261.5" x2="1003.8" y2="261.5" stroke-width="2.8"/>
<line x1="354.1" y1="783" x2="1003.8" y2="783" stroke-width="4.2"/>
<line x1="1181" y1="260.1" x2="1181" y2="782.8" stroke-width="1.9"/>
<line x1="1821" y1="260.1" x2="1821" y2="782.8" stroke-width="1.9"/>
<line x1="1180" y1="261.5" x2="1822" y2="261.5" stroke-width="2.8"/>
<line x1="1180" y1="781.8" x2="1822" y2="781.8" stroke-width="2"/>
<line x1="352.5" y1="903.1" x2="352.5" y2="1427" stroke-width="2.6"/>
<line x1="998.6" y1="903.1" x2="998.6" y2="1427" stroke-width="2.7"/>
<line x1="351.2" y1="904.5" x2="1000" y2="904.5" stroke-width="2.8"/>
<line x1="351.2" y1="1426" x2="1000" y2="1426" stroke-width="1.9"/>
<line x1="1179.9" y1="904.2" x2="1179.9" y2="1428.8" stroke-width="1.8"/>
<line x1="1820" y1="904.2" x2="1820" y2="1428.8" stroke-width="1.8"/>
<line x1="1179" y1="905.6" x2="1820.9" y2="905.6" stroke-width="2.8"/>
<line x1="1179" y1="1427.4" x2="1820.9" y2="1427.4" stroke-width="2.8"/>
<line x1="358.5" y1="1537" x2="358.5" y2="2062.2" stroke-width="2.8"/>
<line x1="1003.5" y1="1537" x2="1003.5" y2="2062.2" stroke-width="2.8"/>
<line x1="357.1" y1="1538.4" x2="1004.9" y2="1538.4" stroke-width="2.8"/>
<line x1="357.1" y1="2060.5" x2="1004.9" y2="2060.5" stroke-width="3.5"/>
<line x1="1182.5" y1="1541" x2="1182.5" y2="2068.9" stroke-width="2.8"/>
<line x1="1821" y1="1541" x2="1821" y2="2068.9" stroke-width="1.9"/>
<line x1="1181.1" y1="1542.4" x2="1822" y2="1542.4" stroke-width="2.8"/>
<line x1="1181.1" y1="2067.9" x2="1822" y2="2067.9" stroke-width="2"/>
<line x1="358.5" y1="2177.2" x2="358.5" y2="2701.9" stroke-width="2.8"/>
<line x1="1002.6" y1="2177.2" x2="1002.6" y2="2701.9" stroke-width="2.8"/>
<line x1="357.1" y1="2178.1" x2="1004" y2="2178.1" stroke-width="1.9"/>
<line x1="357.1" y1="2701" x2="1004" y2="2701" stroke-width="1.9"/>
<line x1="1182.4" y1="2175.3" x2="1182.4" y2="2702.7" stroke-width="2.4"/>
<line x1="1822.4" y1="2175.3" x2="1822.4" y2="2702.7" stroke-width="2.8"/>
<line x1="1181.2" y1="2176.6" x2="1823.8" y2="2176.6" stroke-width="2.6"/>
<line x1="1181.2" y1="2701.3" x2="1823.8" y2="2701.3" stroke-width="2.8"/>
<path d="M238.5 2778 L1920 2772" fill="none" stroke-width="2.2" stroke-linejoin="round"/>
<text x="1735.3" y="2818.7" font-size="33" class="sr" textLength="190" lengthAdjust="spacingAndGlyphs">No.2509-2/3</text>
<rect x="1605" y="2760" width="373" height="56" fill="#fff" fill-opacity="0.55" style="stroke:none"/>
<text x="1631" y="2800.2" font-size="27" class="wm" textLength="333" lengthAdjust="spacingAndGlyphs">www.DataSheet4U.com</text>
<text x="0" y="810.3" font-size="28" class="wl" textLength="297" lengthAdjust="spacingAndGlyphs">www.DataSheet4U.com</text>
</svg>
</body></html>
